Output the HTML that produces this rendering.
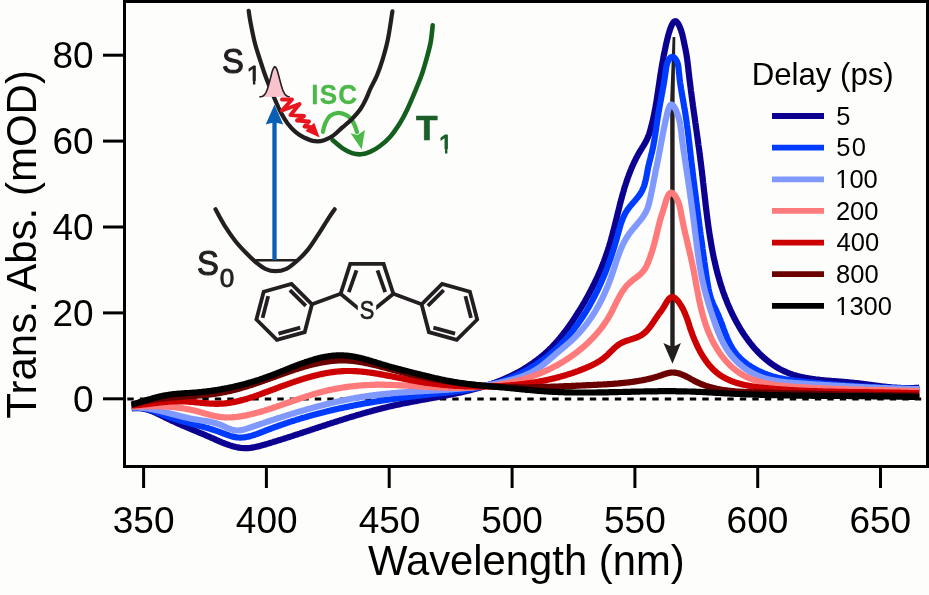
<!DOCTYPE html>
<html><head><meta charset="utf-8"><style>html,body{margin:0;padding:0;background:#fdfdfc;}svg{display:block;}</style></head>
<body>
<svg width="929" height="595" viewBox="0 0 929 595" style="will-change:transform"><rect x="0" y="0" width="929" height="595" fill="#fdfdfc"/>
<line x1="127.3" y1="399" x2="925" y2="399" stroke="#000" stroke-width="3" stroke-dasharray="6.4 6.1"/>
<polygon points="672.6,37 675.3,37 674.6,100 674.7,347 670.3,347 670.2,100" fill="#231f20"/>
<polygon points="663.4,343.1 670.3,346 674.8,346 680.9,343.1 672.5,363.8" fill="#231f20"/>
<path d="M131.6 408.5L132.7 408.3L133.7 408.2L134.8 408.1L135.8 408.1L136.8 408.0L137.8 408.1L138.8 408.1L139.8 408.2L140.8 408.3L141.8 408.4L142.8 408.6L143.8 408.7L144.7 408.9L145.7 409.2L146.6 409.4L147.6 409.7L148.5 410.0L149.5 410.3L150.4 410.6L151.3 411.0L152.2 411.3L153.2 411.7L154.1 412.1L155.0 412.5L155.9 412.9L156.8 413.3L157.7 413.8L158.6 414.2L159.5 414.6L160.4 415.1L161.3 415.5L162.2 416.0L163.1 416.4L164.0 416.9L164.9 417.3L165.8 417.8L166.7 418.2L167.6 418.6L168.5 419.1L169.4 419.5L170.3 419.9L171.2 420.4L172.1 420.8L173.0 421.2L174.0 421.6L174.9 422.0L175.8 422.5L176.7 422.9L177.6 423.3L178.5 423.7L179.4 424.1L180.3 424.5L181.2 424.9L182.1 425.3L183.0 425.7L184.0 426.1L184.9 426.5L185.8 426.9L186.7 427.2L187.6 427.6L188.5 428.0L189.4 428.4L190.4 428.8L191.3 429.2L192.2 429.6L193.1 430.0L194.0 430.3L195.0 430.7L195.9 431.1L196.8 431.5L197.7 431.9L198.6 432.3L199.6 432.7L200.5 433.1L201.4 433.4L202.3 433.8L203.2 434.2L204.2 434.6L205.1 435.0L206.0 435.4L206.9 435.8L207.9 436.2L208.8 436.6L209.7 437.0L210.6 437.4L211.5 437.8L212.5 438.2L213.4 438.6L214.3 439.0L215.2 439.5L216.2 439.9L217.1 440.3L218.0 440.7L218.9 441.1L219.9 441.5L220.8 441.9L221.7 442.3L222.7 442.7L223.6 443.0L224.5 443.4L225.4 443.8L226.4 444.1L227.3 444.5L228.3 444.8L229.2 445.1L230.1 445.4L231.1 445.7L232.0 446.0L233.0 446.3L233.9 446.6L234.9 446.8L235.8 447.0L236.8 447.2L237.7 447.4L238.7 447.6L239.6 447.7L240.6 447.9L241.5 448.0L242.5 448.0L243.5 448.1L244.4 448.1L245.4 448.2L246.4 448.2L247.4 448.1L248.3 448.1L249.3 448.0L250.3 447.9L251.3 447.7L252.3 447.6L253.3 447.4L254.3 447.2L255.2 447.0L256.2 446.8L257.2 446.6L258.2 446.4L259.2 446.1L260.2 445.9L261.2 445.6L262.2 445.3L263.2 445.0L264.2 444.8L265.1 444.5L266.1 444.2L267.1 443.9L268.1 443.6L269.1 443.3L270.0 443.0L271.0 442.7L272.0 442.4L273.0 442.1L273.9 441.8L274.9 441.5L275.9 441.2L276.8 440.9L277.8 440.6L278.7 440.3L279.7 440.0L280.7 439.7L281.6 439.4L282.6 439.1L283.5 438.8L284.5 438.5L285.4 438.2L286.4 437.9L287.3 437.6L288.3 437.3L289.2 437.0L290.2 436.7L291.1 436.4L292.1 436.1L293.0 435.8L294.0 435.4L294.9 435.1L295.9 434.8L296.8 434.5L297.8 434.2L298.7 433.9L299.7 433.6L300.6 433.3L301.5 433.0L302.5 432.6L303.4 432.3L304.4 432.0L305.3 431.7L306.3 431.4L307.2 431.1L308.1 430.8L309.1 430.5L310.0 430.2L311.0 429.8L311.9 429.5L312.9 429.2L313.8 428.9L314.8 428.6L315.7 428.3L316.6 428.0L317.6 427.7L318.5 427.3L319.5 427.0L320.4 426.7L321.4 426.4L322.3 426.1L323.3 425.8L324.2 425.5L325.2 425.2L326.1 424.9L327.0 424.6L328.0 424.2L328.9 423.9L329.9 423.6L330.8 423.3L331.8 423.0L332.7 422.7L333.7 422.4L334.6 422.1L335.6 421.8L336.5 421.5L337.5 421.2L338.4 420.9L339.4 420.6L340.3 420.3L341.3 420.0L342.2 419.7L343.2 419.4L344.1 419.1L345.1 418.8L346.0 418.5L347.0 418.2L347.9 417.9L348.9 417.6L349.9 417.3L350.8 417.0L351.8 416.8L352.7 416.5L353.7 416.2L354.6 415.9L355.6 415.6L356.5 415.3L357.5 415.0L358.4 414.8L359.4 414.5L360.4 414.2L361.3 413.9L362.3 413.6L363.2 413.4L364.2 413.1L365.2 412.8L366.1 412.6L367.1 412.3L368.0 412.0L369.0 411.8L370.0 411.5L370.9 411.2L371.9 411.0L372.8 410.7L373.8 410.4L374.8 410.2L375.7 409.9L376.7 409.7L377.7 409.4L378.6 409.2L379.6 408.9L380.6 408.7L381.5 408.4L382.5 408.2L383.5 407.9L384.4 407.7L385.4 407.5L386.4 407.2L387.3 407.0L388.3 406.8L389.3 406.5L390.3 406.3L391.2 406.1L392.2 405.9L393.2 405.6L394.1 405.4L395.1 405.2L396.1 405.0L397.1 404.8L398.1 404.6L399.0 404.4L400.0 404.2L401.0 403.9L402.0 403.7L402.9 403.5L403.9 403.3L404.9 403.1L405.9 402.9L406.9 402.8L407.8 402.6L408.8 402.4L409.8 402.2L410.8 402.0L411.8 401.8L412.8 401.6L413.7 401.4L414.7 401.2L415.7 401.1L416.7 400.9L417.7 400.7L418.6 400.5L419.6 400.3L420.6 400.1L421.6 400.0L422.6 399.8L423.6 399.6L424.6 399.4L425.5 399.2L426.5 399.1L427.5 398.9L428.5 398.7L429.5 398.5L430.5 398.3L431.4 398.2L432.4 398.0L433.4 397.8L434.4 397.6L435.4 397.4L436.4 397.3L437.3 397.1L438.3 396.9L439.3 396.7L440.3 396.5L441.3 396.4L442.2 396.2L443.2 396.0L444.2 395.8L445.2 395.6L446.2 395.4L447.1 395.2L448.1 395.0L449.1 394.8L450.1 394.6L451.1 394.4L452.0 394.2L453.0 394.0L454.0 393.8L455.0 393.6L455.9 393.4L456.9 393.2L457.9 393.0L458.9 392.8L459.8 392.6L460.8 392.4L461.8 392.2L462.7 391.9L463.7 391.7L464.7 391.5L465.6 391.3L466.6 391.0L467.6 390.8L468.5 390.6L469.5 390.3L470.5 390.1L471.4 389.8L472.4 389.6L473.3 389.3L474.3 389.1L475.3 388.8L476.2 388.6L477.2 388.3L478.1 388.0L479.1 387.8L480.0 387.5L481.0 387.2L481.9 386.9L482.9 386.6L483.8 386.4L484.8 386.1L485.7 385.8L486.7 385.5L487.6 385.2L488.6 384.8L489.5 384.5L490.4 384.2L491.4 383.9L492.3 383.6L493.2 383.2L494.2 382.9L495.1 382.6L496.0 382.2L497.0 381.9L497.9 381.5L498.8 381.2L499.7 380.8L500.7 380.4L501.6 380.0L502.5 379.7L503.4 379.3L504.3 378.9L505.3 378.5L506.2 378.1L507.1 377.7L508.0 377.3L508.9 376.9L509.8 376.4L510.7 376.0L511.6 375.6L512.5 375.1L513.4 374.7L514.3 374.2L515.2 373.8L516.1 373.3L517.0 372.8L517.9 372.4L518.8 371.9L519.7 371.4L520.5 370.9L521.4 370.4L522.3 369.9L523.2 369.4L524.0 368.8L524.9 368.3L525.8 367.8L526.6 367.2L527.5 366.7L528.3 366.1L529.2 365.6L530.0 365.0L530.9 364.5L531.7 363.9L532.6 363.3L533.4 362.7L534.2 362.1L535.0 361.5L535.9 360.9L536.7 360.3L537.5 359.7L538.3 359.1L539.1 358.5L539.9 357.9L540.7 357.2L541.4 356.6L542.2 356.0L543.0 355.3L543.7 354.7L544.5 354.0L545.3 353.3L546.0 352.7L546.7 352.0L547.5 351.3L548.2 350.6L548.9 349.9L549.6 349.2L550.3 348.5L551.1 347.8L551.8 347.1L552.4 346.4L553.1 345.7L553.8 345.0L554.5 344.3L555.2 343.5L555.8 342.8L556.5 342.1L557.1 341.3L557.8 340.6L558.4 339.8L559.1 339.1L559.7 338.3L560.3 337.5L561.0 336.8L561.6 336.0L562.2 335.2L562.8 334.5L563.4 333.7L564.0 332.9L564.7 332.1L565.3 331.3L565.8 330.5L566.4 329.8L567.0 329.0L567.6 328.2L568.2 327.4L568.8 326.5L569.3 325.7L569.9 324.9L570.5 324.1L571.0 323.3L571.6 322.5L572.1 321.7L572.7 320.8L573.3 320.0L573.8 319.2L574.3 318.4L574.9 317.5L575.4 316.7L576.0 315.9L576.5 315.0L577.0 314.2L577.6 313.3L578.1 312.5L578.6 311.6L579.2 310.8L579.7 310.0L580.2 309.1L580.7 308.3L581.2 307.4L581.7 306.6L582.3 305.7L582.8 304.8L583.3 304.0L583.8 303.1L584.3 302.3L584.8 301.4L585.3 300.5L585.8 299.7L586.3 298.8L586.7 297.9L587.2 297.1L587.7 296.2L588.2 295.3L588.7 294.4L589.1 293.5L589.6 292.7L590.1 291.8L590.5 290.9L591.0 290.0L591.5 289.1L591.9 288.2L592.4 287.4L592.8 286.5L593.3 285.6L593.7 284.7L594.2 283.8L594.6 282.9L595.0 282.0L595.5 281.1L595.9 280.2L596.3 279.3L596.7 278.4L597.2 277.5L597.6 276.6L598.0 275.7L598.4 274.7L598.8 273.8L599.2 272.9L599.6 272.0L600.0 271.1L600.4 270.2L600.8 269.2L601.2 268.3L601.6 267.4L601.9 266.5L602.3 265.5L602.7 264.6L603.0 263.7L603.4 262.7L603.8 261.8L604.1 260.9L604.5 259.9L604.8 259.0L605.2 258.1L605.5 257.1L605.8 256.2L606.2 255.2L606.5 254.3L606.8 253.3L607.1 252.4L607.4 251.5L607.8 250.5L608.1 249.5L608.4 248.6L608.7 247.6L609.0 246.7L609.3 245.7L609.5 244.8L609.8 243.8L610.1 242.8L610.4 241.9L610.7 240.9L610.9 239.9L611.2 239.0L611.5 238.0L611.7 237.0L612.0 236.1L612.3 235.1L612.5 234.1L612.8 233.2L613.0 232.2L613.3 231.2L613.5 230.3L613.8 229.3L614.0 228.3L614.3 227.3L614.5 226.4L614.8 225.4L615.0 224.4L615.3 223.4L615.5 222.5L615.7 221.5L616.0 220.5L616.2 219.5L616.5 218.6L616.7 217.6L616.9 216.6L617.2 215.6L617.4 214.7L617.7 213.7L617.9 212.7L618.1 211.7L618.4 210.8L618.6 209.8L618.9 208.8L619.1 207.8L619.4 206.9L619.6 205.9L619.8 204.9L620.1 203.9L620.3 203.0L620.6 202.0L620.8 201.0L621.1 200.1L621.4 199.1L621.6 198.1L621.9 197.2L622.1 196.2L622.4 195.2L622.7 194.3L622.9 193.3L623.2 192.4L623.5 191.4L623.8 190.5L624.0 189.5L624.3 188.5L624.6 187.6L624.9 186.6L625.2 185.7L625.5 184.7L625.8 183.8L626.1 182.9L626.4 181.9L626.7 181.0L627.1 180.0L627.4 179.1L627.7 178.2L628.0 177.2L628.4 176.3L628.7 175.4L629.1 174.4L629.4 173.5L629.8 172.6L630.1 171.7L630.5 170.7L630.9 169.8L631.2 168.9L631.6 168.0L632.0 167.1L632.4 166.2L632.8 165.3L633.2 164.4L633.6 163.5L634.0 162.6L634.5 161.7L634.9 160.8L635.3 159.9L635.8 159.0L636.2 158.1L636.7 157.2L637.2 156.4L637.6 155.5L638.1 154.6L638.6 153.7L639.1 152.9L639.6 152.0L640.1 151.2L640.6 150.3L641.1 149.5L641.7 148.6L642.2 147.7L642.7 146.9L643.3 146.0L643.8 145.2L644.3 144.3L644.8 143.5L645.3 142.6L645.8 141.7L646.2 140.8L646.7 139.9L647.1 139.0L647.5 138.1L647.9 137.2L648.3 136.3L648.6 135.3L649.0 134.4L649.3 133.4L649.6 132.5L649.9 131.5L650.2 130.6L650.4 129.6L650.7 128.6L651.0 127.7L651.2 126.7L651.5 125.7L651.7 124.8L652.0 123.8L652.2 122.8L652.4 121.9L652.7 120.9L652.9 119.9L653.1 118.9L653.3 118.0L653.5 117.0L653.7 116.0L654.0 115.0L654.2 114.0L654.3 113.1L654.5 112.1L654.7 111.1L654.9 110.1L655.1 109.1L655.3 108.2L655.5 107.2L655.6 106.2L655.8 105.2L656.0 104.2L656.1 103.2L656.3 102.3L656.5 101.3L656.6 100.3L656.8 99.3L656.9 98.3L657.1 97.3L657.2 96.3L657.4 95.3L657.5 94.4L657.7 93.4L657.8 92.4L658.0 91.4L658.1 90.4L658.3 89.4L658.4 88.4L658.6 87.4L658.7 86.4L658.9 85.5L659.0 84.5L659.2 83.5L659.3 82.5L659.4 81.5L659.6 80.5L659.7 79.5L659.9 78.5L660.0 77.5L660.2 76.6L660.3 75.6L660.5 74.6L660.6 73.6L660.8 72.6L661.0 71.6L661.1 70.6L661.3 69.6L661.4 68.7L661.6 67.7L661.8 66.7L661.9 65.7L662.1 64.7L662.3 63.7L662.4 62.8L662.6 61.8L662.8 60.8L663.0 59.8L663.2 58.8L663.3 57.9L663.5 56.9L663.7 55.9L663.9 54.9L664.1 53.9L664.3 53.0L664.5 52.0L664.7 51.0L664.9 50.1L665.1 49.1L665.3 48.1L665.5 47.1L665.7 46.2L665.9 45.2L666.1 44.2L666.3 43.3L666.5 42.3L666.8 41.4L667.0 40.4L667.2 39.4L667.5 38.5L667.7 37.5L668.0 36.5L668.2 35.4L668.5 34.4L668.8 33.3L669.2 32.2L669.5 31.1L669.9 29.9L670.3 28.7L670.7 27.6L671.2 26.5L671.6 25.4L672.1 24.4L672.6 23.6L673.1 22.8L673.6 22.1L674.1 21.7L674.6 21.3L675.2 21.2L675.7 21.3L676.3 21.5L676.8 22.0L677.4 22.6L677.9 23.3L678.4 24.2L678.9 25.1L679.4 26.1L679.9 27.2L680.3 28.4L680.8 29.5L681.2 30.7L681.5 31.9L681.9 33.0L682.2 34.1L682.5 35.2L682.7 36.2L683.0 37.3L683.2 38.3L683.4 39.3L683.6 40.3L683.8 41.2L684.0 42.2L684.2 43.2L684.4 44.1L684.6 45.1L684.8 46.0L685.0 47.0L685.2 47.9L685.4 48.9L685.6 49.9L685.8 50.8L686.0 51.8L686.1 52.7L686.3 53.7L686.5 54.7L686.6 55.6L686.8 56.6L686.9 57.6L687.1 58.6L687.2 59.6L687.3 60.6L687.5 61.6L687.6 62.6L687.7 63.6L687.8 64.6L687.9 65.5L688.1 66.6L688.2 67.6L688.3 68.6L688.4 69.6L688.5 70.6L688.6 71.6L688.7 72.6L688.9 73.6L689.0 74.6L689.1 75.6L689.2 76.6L689.3 77.6L689.4 78.6L689.6 79.6L689.7 80.6L689.8 81.6L689.9 82.6L690.1 83.5L690.2 84.5L690.3 85.5L690.4 86.5L690.6 87.5L690.7 88.5L690.8 89.5L690.9 90.5L691.1 91.5L691.2 92.5L691.3 93.5L691.5 94.5L691.6 95.5L691.7 96.5L691.8 97.5L692.0 98.4L692.1 99.4L692.2 100.4L692.4 101.4L692.5 102.4L692.7 103.4L692.8 104.4L692.9 105.4L693.1 106.4L693.2 107.3L693.3 108.3L693.5 109.3L693.6 110.3L693.7 111.3L693.9 112.3L694.0 113.3L694.2 114.2L694.3 115.2L694.4 116.2L694.6 117.2L694.7 118.2L694.9 119.2L695.0 120.2L695.1 121.1L695.3 122.1L695.4 123.1L695.6 124.1L695.7 125.1L695.8 126.1L696.0 127.1L696.1 128.0L696.3 129.0L696.4 130.0L696.5 131.0L696.7 132.0L696.8 133.0L696.9 134.0L697.1 134.9L697.2 135.9L697.4 136.9L697.5 137.9L697.6 138.9L697.8 139.9L697.9 140.9L698.0 141.8L698.2 142.8L698.3 143.8L698.4 144.8L698.6 145.8L698.7 146.8L698.9 147.8L699.0 148.7L699.1 149.7L699.3 150.7L699.4 151.7L699.5 152.7L699.6 153.7L699.8 154.7L699.9 155.7L700.0 156.6L700.2 157.6L700.3 158.6L700.4 159.6L700.5 160.6L700.7 161.6L700.8 162.6L700.9 163.6L701.0 164.6L701.2 165.6L701.3 166.6L701.4 167.5L701.5 168.5L701.6 169.5L701.8 170.5L701.9 171.5L702.0 172.5L702.1 173.5L702.2 174.5L702.3 175.5L702.5 176.5L702.6 177.5L702.7 178.5L702.8 179.5L702.9 180.5L703.0 181.5L703.1 182.5L703.3 183.5L703.4 184.5L703.5 185.5L703.6 186.5L703.7 187.5L703.8 188.5L703.9 189.5L704.0 190.5L704.1 191.4L704.3 192.4L704.4 193.4L704.5 194.4L704.6 195.4L704.7 196.4L704.8 197.4L704.9 198.4L705.1 199.4L705.2 200.4L705.3 201.4L705.4 202.4L705.5 203.4L705.6 204.4L705.7 205.4L705.9 206.4L706.0 207.4L706.1 208.4L706.2 209.4L706.3 210.4L706.5 211.4L706.6 212.4L706.7 213.4L706.8 214.4L707.0 215.4L707.1 216.4L707.2 217.4L707.3 218.4L707.5 219.4L707.6 220.4L707.7 221.4L707.9 222.4L708.0 223.4L708.1 224.3L708.3 225.3L708.4 226.3L708.5 227.3L708.7 228.3L708.8 229.3L709.0 230.3L709.1 231.3L709.3 232.3L709.4 233.3L709.6 234.3L709.7 235.2L709.9 236.2L710.0 237.2L710.2 238.2L710.4 239.2L710.5 240.2L710.7 241.2L710.9 242.2L711.0 243.1L711.2 244.1L711.4 245.1L711.5 246.1L711.7 247.1L711.9 248.1L712.1 249.0L712.3 250.0L712.5 251.0L712.6 252.0L712.8 253.0L713.0 253.9L713.2 254.9L713.4 255.9L713.6 256.9L713.8 257.8L714.0 258.8L714.3 259.8L714.5 260.8L714.7 261.7L714.9 262.7L715.1 263.7L715.4 264.6L715.6 265.6L715.8 266.6L716.0 267.5L716.3 268.5L716.5 269.5L716.8 270.4L717.0 271.4L717.3 272.3L717.5 273.3L717.8 274.3L718.0 275.2L718.3 276.2L718.6 277.1L718.8 278.1L719.1 279.0L719.4 280.0L719.7 281.0L720.0 281.9L720.2 282.9L720.5 283.8L720.8 284.8L721.1 285.7L721.4 286.6L721.7 287.6L722.1 288.5L722.4 289.5L722.7 290.4L723.0 291.4L723.3 292.3L723.7 293.2L724.0 294.2L724.4 295.1L724.7 296.0L725.0 297.0L725.4 297.9L725.8 298.8L726.1 299.7L726.5 300.7L726.9 301.6L727.2 302.5L727.6 303.4L728.0 304.4L728.4 305.3L728.8 306.2L729.2 307.1L729.6 308.0L730.0 308.9L730.4 309.9L730.8 310.8L731.2 311.7L731.7 312.6L732.1 313.5L732.5 314.4L733.0 315.3L733.4 316.2L733.9 317.1L734.3 318.0L734.8 318.9L735.3 319.8L735.8 320.7L736.2 321.6L736.7 322.5L737.2 323.3L737.7 324.2L738.2 325.1L738.7 326.0L739.2 326.9L739.7 327.7L740.2 328.6L740.8 329.5L741.3 330.3L741.8 331.2L742.4 332.0L742.9 332.9L743.5 333.7L744.0 334.6L744.6 335.4L745.2 336.2L745.8 337.1L746.3 337.9L746.9 338.7L747.5 339.5L748.1 340.3L748.7 341.1L749.3 341.9L749.9 342.7L750.6 343.5L751.2 344.3L751.8 345.1L752.4 345.8L753.1 346.6L753.7 347.4L754.4 348.1L755.0 348.9L755.7 349.6L756.4 350.3L757.1 351.1L757.7 351.8L758.4 352.5L759.1 353.2L759.8 353.9L760.5 354.6L761.2 355.3L761.9 356.0L762.7 356.6L763.4 357.3L764.1 357.9L764.9 358.6L765.6 359.2L766.4 359.9L767.1 360.5L767.9 361.1L768.7 361.7L769.4 362.3L770.2 362.9L771.0 363.4L771.8 364.0L772.6 364.6L773.4 365.1L774.2 365.7L775.0 366.2L775.8 366.7L776.7 367.2L777.5 367.7L778.4 368.2L779.2 368.7L780.1 369.2L780.9 369.6L781.8 370.1L782.7 370.5L783.5 370.9L784.4 371.3L785.3 371.7L786.2 372.1L787.1 372.5L788.0 372.9L788.9 373.2L789.9 373.6L790.8 373.9L791.7 374.3L792.7 374.6L793.6 374.9L794.6 375.2L795.5 375.4L796.5 375.7L797.4 376.0L798.4 376.2L799.4 376.5L800.4 376.7L801.3 376.9L802.3 377.2L803.3 377.4L804.3 377.6L805.3 377.8L806.3 378.0L807.3 378.1L808.3 378.3L809.3 378.5L810.4 378.6L811.4 378.8L812.4 379.0L813.4 379.1L814.4 379.2L815.5 379.4L816.5 379.5L817.5 379.6L818.5 379.7L819.6 379.8L820.6 380.0L821.6 380.1L822.7 380.2L823.7 380.3L824.7 380.4L825.8 380.5L826.8 380.5L827.9 380.6L828.9 380.7L829.9 380.8L831.0 380.9L832.0 381.0L833.0 381.0L834.1 381.1L835.1 381.2L836.1 381.3L837.1 381.4L838.2 381.4L839.2 381.5L840.2 381.6L841.2 381.7L842.3 381.8L843.3 381.8L844.3 381.9L845.3 382.0L846.3 382.1L847.3 382.2L848.3 382.3L849.3 382.4L850.3 382.5L851.3 382.6L852.3 382.7L853.3 382.8L854.2 382.9L855.2 383.0L856.2 383.1L857.2 383.2L858.1 383.3L859.1 383.4L860.1 383.6L861.0 383.7L862.0 383.8L862.9 383.9L863.9 384.1L864.8 384.2L865.8 384.3L866.7 384.4L867.7 384.6L868.6 384.7L869.6 384.8L870.5 384.9L871.5 385.1L872.4 385.2L873.4 385.3L874.3 385.4L875.3 385.6L876.2 385.7L877.2 385.8L878.1 385.9L879.1 386.1L880.0 386.2L881.0 386.3L881.9 386.4L882.9 386.5L883.8 386.6L884.8 386.7L885.7 386.8L886.7 386.9L887.7 387.0L888.6 387.1L889.6 387.2L890.6 387.3L891.5 387.4L892.5 387.5L893.5 387.5L894.5 387.6L895.4 387.7L896.4 387.7L897.4 387.8L898.4 387.9L899.4 387.9L900.4 387.9L901.4 388.0L902.4 388.0L903.4 388.0L904.5 388.1L905.5 388.1L906.5 388.1L907.6 388.1L908.6 388.1L909.6 388.1L910.7 388.1L911.7 388.1L912.8 388.0L913.9 388.0L914.9 387.9L916.0 387.9L917.1 387.8L918.2 387.8L919.3 387.7" fill="none" stroke="#0b0090" stroke-width="6.2" stroke-linejoin="round" stroke-linecap="butt"/>
<path d="M131.6 408.0L132.7 407.9L133.7 407.7L134.7 407.7L135.8 407.6L136.8 407.6L137.8 407.6L138.8 407.6L139.8 407.7L140.8 407.8L141.8 407.9L142.7 408.1L143.7 408.2L144.7 408.4L145.7 408.6L146.6 408.8L147.6 409.1L148.5 409.4L149.5 409.6L150.4 409.9L151.4 410.2L152.3 410.6L153.2 410.9L154.2 411.2L155.1 411.6L156.0 411.9L157.0 412.3L157.9 412.7L158.8 413.0L159.7 413.4L160.7 413.8L161.6 414.1L162.5 414.5L163.5 414.9L164.4 415.3L165.3 415.6L166.3 416.0L167.2 416.3L168.1 416.7L169.1 417.0L170.0 417.3L171.0 417.7L171.9 418.0L172.9 418.3L173.8 418.6L174.8 418.9L175.7 419.2L176.7 419.5L177.6 419.8L178.6 420.1L179.6 420.4L180.5 420.7L181.5 420.9L182.4 421.2L183.4 421.5L184.4 421.7L185.3 422.0L186.3 422.3L187.3 422.5L188.2 422.8L189.2 423.0L190.1 423.3L191.1 423.6L192.1 423.8L193.0 424.1L194.0 424.3L195.0 424.6L195.9 424.8L196.9 425.1L197.9 425.4L198.8 425.6L199.8 425.9L200.8 426.1L201.7 426.4L202.7 426.7L203.7 426.9L204.6 427.2L205.6 427.5L206.5 427.7L207.5 428.0L208.5 428.3L209.4 428.6L210.4 428.9L211.3 429.2L212.3 429.5L213.2 429.8L214.2 430.1L215.1 430.4L216.1 430.7L217.1 431.1L218.0 431.4L219.0 431.7L219.9 432.1L220.9 432.4L221.8 432.8L222.8 433.2L223.7 433.5L224.7 433.9L225.6 434.2L226.5 434.6L227.5 434.9L228.4 435.3L229.4 435.6L230.3 435.9L231.3 436.2L232.2 436.4L233.1 436.7L234.1 436.9L235.0 437.1L236.0 437.2L236.9 437.4L237.9 437.5L238.8 437.5L239.7 437.6L240.7 437.6L241.6 437.5L242.6 437.5L243.5 437.4L244.4 437.3L245.4 437.2L246.3 437.0L247.3 436.8L248.2 436.6L249.2 436.4L250.1 436.2L251.0 435.9L252.0 435.6L252.9 435.3L253.9 435.0L254.8 434.7L255.7 434.4L256.7 434.1L257.6 433.7L258.6 433.4L259.5 433.0L260.5 432.6L261.4 432.3L262.4 431.9L263.3 431.5L264.3 431.1L265.2 430.8L266.1 430.4L267.1 430.0L268.0 429.7L269.0 429.3L269.9 429.0L270.9 428.6L271.8 428.2L272.8 427.9L273.7 427.5L274.7 427.2L275.6 426.8L276.6 426.5L277.5 426.2L278.5 425.8L279.4 425.5L280.4 425.2L281.3 424.8L282.3 424.5L283.2 424.2L284.2 423.8L285.2 423.5L286.1 423.2L287.1 422.9L288.0 422.5L289.0 422.2L289.9 421.9L290.9 421.6L291.8 421.3L292.8 421.0L293.8 420.7L294.7 420.4L295.7 420.1L296.6 419.8L297.6 419.5L298.6 419.2L299.5 418.9L300.5 418.6L301.4 418.3L302.4 418.0L303.4 417.7L304.3 417.5L305.3 417.2L306.2 416.9L307.2 416.6L308.2 416.4L309.1 416.1L310.1 415.8L311.1 415.5L312.0 415.3L313.0 415.0L313.9 414.7L314.9 414.5L315.9 414.2L316.8 414.0L317.8 413.7L318.8 413.5L319.7 413.2L320.7 413.0L321.7 412.7L322.6 412.5L323.6 412.2L324.6 412.0L325.5 411.7L326.5 411.5L327.5 411.3L328.5 411.0L329.4 410.8L330.4 410.6L331.4 410.3L332.3 410.1L333.3 409.9L334.3 409.6L335.2 409.4L336.2 409.2L337.2 409.0L338.2 408.8L339.1 408.5L340.1 408.3L341.1 408.1L342.1 407.9L343.0 407.7L344.0 407.5L345.0 407.3L346.0 407.1L346.9 406.9L347.9 406.7L348.9 406.5L349.9 406.3L350.8 406.1L351.8 405.9L352.8 405.7L353.8 405.5L354.7 405.3L355.7 405.1L356.7 404.9L357.7 404.7L358.7 404.5L359.6 404.4L360.6 404.2L361.6 404.0L362.6 403.8L363.5 403.6L364.5 403.5L365.5 403.3L366.5 403.1L367.5 402.9L368.5 402.8L369.4 402.6L370.4 402.4L371.4 402.3L372.4 402.1L373.4 401.9L374.3 401.8L375.3 401.6L376.3 401.5L377.3 401.3L378.3 401.2L379.3 401.0L380.2 400.8L381.2 400.7L382.2 400.5L383.2 400.4L384.2 400.2L385.2 400.1L386.2 399.9L387.1 399.8L388.1 399.7L389.1 399.5L390.1 399.4L391.1 399.2L392.1 399.1L393.1 399.0L394.1 398.8L395.0 398.7L396.0 398.6L397.0 398.4L398.0 398.3L399.0 398.2L400.0 398.0L401.0 397.9L402.0 397.8L403.0 397.6L403.9 397.5L404.9 397.4L405.9 397.3L406.9 397.1L407.9 397.0L408.9 396.9L409.9 396.8L410.9 396.6L411.9 396.5L412.9 396.4L413.9 396.3L414.8 396.2L415.8 396.0L416.8 395.9L417.8 395.8L418.8 395.7L419.8 395.6L420.8 395.5L421.8 395.3L422.8 395.2L423.8 395.1L424.8 395.0L425.8 394.9L426.8 394.8L427.8 394.7L428.8 394.5L429.8 394.4L430.7 394.3L431.7 394.2L432.7 394.1L433.7 394.0L434.7 393.9L435.7 393.7L436.7 393.6L437.7 393.5L438.7 393.4L439.7 393.3L440.7 393.2L441.7 393.1L442.7 393.0L443.7 392.8L444.7 392.7L445.7 392.6L446.7 392.5L447.7 392.4L448.7 392.3L449.7 392.1L450.7 392.0L451.7 391.9L452.7 391.8L453.7 391.6L454.7 391.5L455.6 391.4L456.6 391.3L457.6 391.1L458.6 391.0L459.6 390.9L460.6 390.7L461.6 390.6L462.6 390.4L463.6 390.3L464.6 390.1L465.6 390.0L466.6 389.8L467.5 389.7L468.5 389.5L469.5 389.4L470.5 389.2L471.5 389.0L472.5 388.8L473.5 388.7L474.4 388.5L475.4 388.3L476.4 388.1L477.4 387.9L478.4 387.7L479.3 387.5L480.3 387.3L481.3 387.1L482.3 386.9L483.2 386.6L484.2 386.4L485.2 386.2L486.2 385.9L487.1 385.7L488.1 385.5L489.0 385.2L490.0 384.9L491.0 384.7L491.9 384.4L492.9 384.1L493.9 383.9L494.8 383.6L495.8 383.3L496.7 383.0L497.7 382.7L498.6 382.4L499.6 382.0L500.5 381.7L501.5 381.4L502.4 381.1L503.3 380.7L504.3 380.4L505.2 380.0L506.1 379.7L507.1 379.3L508.0 378.9L508.9 378.6L509.9 378.2L510.8 377.8L511.7 377.4L512.6 377.0L513.5 376.6L514.4 376.2L515.4 375.8L516.3 375.4L517.2 375.0L518.1 374.5L519.0 374.1L519.9 373.7L520.8 373.2L521.6 372.8L522.5 372.3L523.4 371.9L524.3 371.4L525.2 370.9L526.1 370.4L526.9 370.0L527.8 369.5L528.7 369.0L529.5 368.5L530.4 368.0L531.2 367.5L532.1 366.9L532.9 366.4L533.8 365.9L534.6 365.4L535.5 364.8L536.3 364.3L537.1 363.7L538.0 363.2L538.8 362.6L539.6 362.1L540.4 361.5L541.3 360.9L542.1 360.4L542.9 359.8L543.7 359.2L544.5 358.6L545.3 358.0L546.1 357.4L546.8 356.8L547.6 356.2L548.4 355.5L549.2 354.9L549.9 354.3L550.7 353.6L551.5 353.0L552.2 352.4L553.0 351.7L553.7 351.0L554.5 350.4L555.2 349.7L555.9 349.0L556.7 348.4L557.4 347.7L558.1 347.0L558.8 346.3L559.5 345.6L560.2 344.9L560.9 344.2L561.6 343.5L562.3 342.8L563.0 342.1L563.7 341.3L564.4 340.6L565.0 339.9L565.7 339.1L566.4 338.4L567.0 337.6L567.7 336.9L568.3 336.1L569.0 335.4L569.6 334.6L570.3 333.8L570.9 333.1L571.5 332.3L572.1 331.5L572.8 330.7L573.4 329.9L574.0 329.1L574.6 328.3L575.2 327.5L575.8 326.7L576.4 325.9L577.0 325.1L577.6 324.3L578.2 323.5L578.7 322.7L579.3 321.9L579.9 321.0L580.4 320.2L581.0 319.4L581.6 318.5L582.1 317.7L582.7 316.9L583.2 316.0L583.8 315.2L584.3 314.3L584.8 313.5L585.4 312.6L585.9 311.8L586.4 310.9L586.9 310.1L587.4 309.2L588.0 308.3L588.5 307.5L589.0 306.6L589.5 305.7L590.0 304.8L590.4 304.0L590.9 303.1L591.4 302.2L591.9 301.3L592.4 300.4L592.8 299.6L593.3 298.7L593.8 297.8L594.2 296.9L594.7 296.0L595.1 295.1L595.6 294.2L596.0 293.3L596.5 292.4L596.9 291.5L597.4 290.6L597.8 289.7L598.2 288.8L598.6 287.9L599.1 287.0L599.5 286.1L599.9 285.2L600.3 284.3L600.7 283.4L601.1 282.5L601.5 281.6L601.9 280.7L602.3 279.7L602.7 278.8L603.1 277.9L603.5 277.0L603.9 276.1L604.2 275.2L604.6 274.3L605.0 273.3L605.4 272.4L605.7 271.5L606.1 270.6L606.4 269.6L606.8 268.7L607.1 267.8L607.5 266.9L607.8 265.9L608.2 265.0L608.5 264.1L608.9 263.1L609.2 262.2L609.5 261.3L609.9 260.3L610.2 259.4L610.5 258.5L610.8 257.5L611.2 256.6L611.5 255.6L611.8 254.7L612.1 253.7L612.4 252.8L612.7 251.8L613.0 250.9L613.3 249.9L613.6 249.0L613.9 248.0L614.2 247.1L614.5 246.1L614.8 245.1L615.1 244.2L615.4 243.2L615.7 242.2L615.9 241.3L616.2 240.3L616.5 239.3L616.8 238.4L617.0 237.4L617.3 236.4L617.6 235.4L617.8 234.4L618.1 233.5L618.4 232.5L618.6 231.5L618.9 230.5L619.2 229.5L619.5 228.6L619.7 227.6L620.0 226.6L620.3 225.7L620.6 224.7L620.9 223.7L621.2 222.8L621.6 221.8L621.9 220.9L622.3 219.9L622.6 219.0L623.0 218.1L623.4 217.2L623.8 216.3L624.2 215.4L624.7 214.5L625.1 213.6L625.6 212.7L626.1 211.9L626.7 211.0L627.2 210.2L627.8 209.4L628.3 208.6L628.9 207.8L629.6 207.0L630.2 206.2L630.8 205.4L631.5 204.7L632.1 203.9L632.8 203.1L633.5 202.4L634.1 201.6L634.8 200.9L635.4 200.1L636.1 199.3L636.7 198.6L637.4 197.8L638.0 197.0L638.6 196.2L639.2 195.4L639.7 194.6L640.3 193.8L640.8 193.0L641.3 192.1L641.8 191.3L642.2 190.4L642.6 189.5L643.0 188.6L643.4 187.7L643.8 186.8L644.1 185.9L644.4 184.9L644.7 184.0L644.9 183.0L645.2 182.0L645.4 181.1L645.7 180.1L645.9 179.1L646.1 178.1L646.3 177.1L646.5 176.1L646.7 175.1L646.9 174.1L647.1 173.1L647.3 172.1L647.4 171.1L647.6 170.1L647.8 169.2L648.0 168.2L648.2 167.2L648.4 166.2L648.7 165.2L648.9 164.3L649.1 163.3L649.3 162.3L649.6 161.4L649.8 160.4L650.1 159.5L650.3 158.5L650.6 157.6L650.8 156.6L651.0 155.7L651.3 154.7L651.5 153.7L651.8 152.8L652.0 151.8L652.2 150.8L652.4 149.9L652.7 148.9L652.9 147.9L653.1 146.9L653.3 146.0L653.5 145.0L653.6 144.0L653.8 143.0L654.0 142.0L654.2 141.0L654.4 140.0L654.5 139.0L654.7 138.0L654.8 137.0L655.0 136.0L655.2 135.0L655.3 134.0L655.5 133.0L655.6 132.0L655.8 131.0L655.9 130.0L656.1 129.0L656.2 128.0L656.3 127.0L656.5 125.9L656.6 124.9L656.8 124.0L656.9 123.0L657.1 122.0L657.2 121.0L657.4 120.0L657.5 119.0L657.7 118.0L657.8 117.0L658.0 116.1L658.1 115.1L658.3 114.1L658.4 113.1L658.6 112.2L658.8 111.2L658.9 110.3L659.1 109.3L659.3 108.3L659.4 107.4L659.6 106.4L659.8 105.5L660.0 104.5L660.1 103.6L660.3 102.6L660.5 101.7L660.7 100.7L660.9 99.8L661.0 98.8L661.2 97.9L661.4 96.9L661.6 96.0L661.7 95.0L661.9 94.0L662.1 93.1L662.3 92.1L662.5 91.2L662.6 90.2L662.8 89.2L663.0 88.2L663.2 87.2L663.3 86.3L663.5 85.3L663.7 84.3L663.8 83.3L664.0 82.3L664.2 81.3L664.3 80.3L664.5 79.2L664.7 78.2L664.8 77.2L665.0 76.1L665.1 75.1L665.3 74.0L665.4 73.0L665.6 71.9L665.7 70.8L665.9 69.8L666.0 68.7L666.2 67.6L666.4 66.5L666.6 65.5L666.9 64.4L667.2 63.4L667.5 62.4L667.9 61.4L668.4 60.5L668.9 59.6L669.4 58.8L670.0 58.1L670.6 57.5L671.3 57.1L671.9 56.9L672.6 56.9L673.3 57.1L674.0 57.4L674.6 58.0L675.2 58.6L675.8 59.4L676.3 60.3L676.8 61.2L677.2 62.2L677.6 63.2L677.9 64.3L678.1 65.4L678.3 66.5L678.5 67.6L678.6 68.8L678.7 69.9L678.8 71.1L678.9 72.2L679.0 73.3L679.2 74.4L679.3 75.5L679.4 76.5L679.5 77.6L679.6 78.6L679.7 79.6L679.9 80.6L680.0 81.6L680.1 82.6L680.3 83.6L680.4 84.6L680.6 85.5L680.7 86.5L680.9 87.4L681.0 88.4L681.2 89.3L681.3 90.3L681.5 91.2L681.6 92.1L681.8 93.1L682.0 94.0L682.1 94.9L682.3 95.9L682.4 96.8L682.6 97.7L682.8 98.7L683.0 99.6L683.1 100.6L683.3 101.5L683.5 102.5L683.6 103.5L683.8 104.4L684.0 105.4L684.1 106.4L684.3 107.4L684.5 108.4L684.7 109.4L684.8 110.4L685.0 111.4L685.2 112.4L685.3 113.4L685.5 114.4L685.6 115.4L685.8 116.4L685.9 117.3L686.1 118.3L686.2 119.3L686.4 120.3L686.5 121.3L686.7 122.3L686.8 123.3L686.9 124.3L687.1 125.3L687.2 126.3L687.3 127.3L687.5 128.3L687.6 129.3L687.7 130.3L687.8 131.3L688.0 132.3L688.1 133.3L688.2 134.2L688.3 135.2L688.5 136.2L688.6 137.2L688.7 138.2L688.8 139.2L688.9 140.2L689.0 141.2L689.1 142.2L689.3 143.2L689.4 144.1L689.5 145.1L689.6 146.1L689.7 147.1L689.8 148.1L689.9 149.1L690.0 150.1L690.2 151.1L690.3 152.1L690.4 153.1L690.5 154.0L690.6 155.0L690.7 156.0L690.8 157.0L691.0 158.0L691.1 159.0L691.2 160.0L691.3 161.0L691.4 162.0L691.5 163.0L691.7 164.0L691.8 165.0L691.9 165.9L692.0 166.9L692.1 167.9L692.3 168.9L692.4 169.9L692.5 170.9L692.6 171.9L692.7 172.9L692.9 173.9L693.0 174.9L693.1 175.9L693.2 176.9L693.3 177.9L693.5 178.9L693.6 179.8L693.7 180.8L693.8 181.8L694.0 182.8L694.1 183.8L694.2 184.8L694.3 185.8L694.5 186.8L694.6 187.8L694.7 188.8L694.8 189.8L695.0 190.8L695.1 191.8L695.2 192.8L695.3 193.7L695.5 194.7L695.6 195.7L695.7 196.7L695.8 197.7L696.0 198.7L696.1 199.7L696.2 200.7L696.3 201.7L696.5 202.7L696.6 203.7L696.7 204.7L696.9 205.6L697.0 206.6L697.1 207.6L697.2 208.6L697.4 209.6L697.5 210.6L697.6 211.6L697.8 212.6L697.9 213.6L698.0 214.6L698.1 215.5L698.3 216.5L698.4 217.5L698.5 218.5L698.7 219.5L698.8 220.5L698.9 221.5L699.0 222.5L699.2 223.4L699.3 224.4L699.4 225.4L699.6 226.4L699.7 227.4L699.8 228.4L700.0 229.4L700.1 230.4L700.2 231.4L700.4 232.3L700.5 233.3L700.6 234.3L700.8 235.3L700.9 236.3L701.0 237.3L701.2 238.3L701.3 239.3L701.4 240.2L701.6 241.2L701.7 242.2L701.8 243.2L702.0 244.2L702.1 245.2L702.2 246.2L702.4 247.2L702.5 248.1L702.6 249.1L702.8 250.1L702.9 251.1L703.0 252.1L703.2 253.1L703.3 254.1L703.5 255.1L703.6 256.1L703.7 257.1L703.9 258.0L704.0 259.0L704.2 260.0L704.3 261.0L704.4 262.0L704.6 263.0L704.7 264.0L704.9 265.0L705.0 266.0L705.1 267.0L705.3 268.0L705.4 269.0L705.6 270.0L705.7 271.0L705.9 272.0L706.0 273.0L706.1 274.0L706.3 274.9L706.4 275.9L706.6 276.9L706.7 277.9L706.9 278.9L707.0 279.9L707.2 280.9L707.3 281.9L707.5 282.9L707.7 283.9L707.8 284.9L708.0 285.9L708.2 286.9L708.4 287.9L708.5 288.9L708.7 289.8L709.0 290.8L709.2 291.8L709.4 292.8L709.6 293.7L709.9 294.7L710.1 295.6L710.4 296.6L710.7 297.5L711.0 298.4L711.3 299.4L711.7 300.3L712.0 301.2L712.4 302.1L712.7 303.0L713.1 303.9L713.5 304.8L713.9 305.7L714.3 306.6L714.7 307.5L715.1 308.3L715.6 309.2L716.0 310.1L716.4 311.0L716.8 311.9L717.2 312.8L717.6 313.7L718.1 314.6L718.5 315.5L718.8 316.4L719.2 317.4L719.6 318.3L720.0 319.3L720.4 320.2L720.7 321.1L721.1 322.1L721.5 323.1L721.8 324.0L722.2 325.0L722.5 325.9L722.9 326.9L723.2 327.9L723.6 328.8L723.9 329.8L724.3 330.8L724.7 331.7L725.0 332.7L725.4 333.7L725.8 334.6L726.2 335.6L726.5 336.5L726.9 337.5L727.3 338.4L727.7 339.3L728.1 340.3L728.6 341.2L729.0 342.1L729.4 343.0L729.9 343.9L730.3 344.8L730.8 345.7L731.3 346.5L731.8 347.4L732.3 348.2L732.8 349.1L733.4 349.9L733.9 350.7L734.5 351.5L735.1 352.3L735.7 353.1L736.3 353.9L736.9 354.6L737.5 355.4L738.2 356.1L738.8 356.8L739.5 357.5L740.2 358.2L740.9 358.9L741.6 359.6L742.4 360.2L743.1 360.9L743.8 361.5L744.6 362.1L745.4 362.7L746.2 363.3L746.9 363.9L747.7 364.5L748.6 365.1L749.4 365.6L750.2 366.2L751.0 366.7L751.9 367.3L752.7 367.8L753.6 368.3L754.5 368.8L755.4 369.3L756.2 369.7L757.1 370.2L758.0 370.6L758.9 371.1L759.8 371.5L760.8 371.9L761.7 372.3L762.6 372.7L763.6 373.1L764.5 373.5L765.4 373.9L766.4 374.2L767.3 374.6L768.3 374.9L769.3 375.2L770.2 375.6L771.2 375.9L772.1 376.2L773.1 376.5L774.1 376.7L775.1 377.0L776.0 377.3L777.0 377.5L778.0 377.8L779.0 378.0L780.0 378.2L781.0 378.4L781.9 378.6L782.9 378.8L783.9 379.0L784.9 379.2L785.9 379.4L786.9 379.5L787.8 379.7L788.8 379.8L789.8 380.0L790.8 380.1L791.8 380.3L792.8 380.4L793.7 380.5L794.7 380.7L795.7 380.8L796.7 380.9L797.7 381.0L798.7 381.1L799.7 381.2L800.7 381.3L801.6 381.5L802.6 381.6L803.6 381.7L804.6 381.8L805.6 381.9L806.6 382.0L807.6 382.1L808.6 382.2L809.6 382.3L810.6 382.4L811.6 382.5L812.5 382.6L813.5 382.7L814.5 382.8L815.5 382.9L816.5 383.0L817.5 383.1L818.5 383.2L819.5 383.3L820.5 383.4L821.5 383.5L822.5 383.5L823.5 383.6L824.5 383.7L825.5 383.8L826.5 383.9L827.5 384.0L828.5 384.1L829.4 384.1L830.4 384.2L831.4 384.3L832.4 384.4L833.4 384.5L834.4 384.6L835.4 384.6L836.4 384.7L837.4 384.8L838.4 384.9L839.4 384.9L840.4 385.0L841.4 385.1L842.4 385.2L843.4 385.2L844.4 385.3L845.4 385.4L846.4 385.5L847.4 385.5L848.4 385.6L849.4 385.7L850.4 385.7L851.4 385.8L852.4 385.9L853.4 385.9L854.4 386.0L855.4 386.1L856.4 386.1L857.4 386.2L858.4 386.2L859.4 386.3L860.4 386.4L861.4 386.4L862.4 386.5L863.4 386.5L864.4 386.6L865.4 386.7L866.4 386.7L867.4 386.8L868.4 386.8L869.4 386.9L870.4 386.9L871.4 387.0L872.4 387.0L873.4 387.1L874.4 387.2L875.4 387.2L876.4 387.3L877.4 387.3L878.4 387.4L879.4 387.4L880.4 387.5L881.4 387.5L882.4 387.5L883.4 387.6L884.4 387.6L885.4 387.7L886.4 387.7L887.4 387.8L888.4 387.8L889.4 387.9L890.4 387.9L891.4 388.0L892.4 388.0L893.4 388.0L894.4 388.1L895.4 388.1L896.4 388.2L897.4 388.2L898.4 388.2L899.4 388.3L900.4 388.3L901.4 388.4L902.4 388.4L903.4 388.4L904.4 388.5L905.4 388.5L906.4 388.6L907.3 388.6L908.3 388.6L909.3 388.7L910.3 388.7L911.3 388.7L912.3 388.8L913.3 388.8L914.3 388.8L915.3 388.9L916.3 388.9L917.3 388.9L918.3 389.0L919.3 389.0" fill="none" stroke="#003cff" stroke-width="6.2" stroke-linejoin="round" stroke-linecap="butt"/>
<path d="M131.6 407.4L132.6 407.4L133.6 407.4L134.6 407.4L135.6 407.4L136.6 407.4L137.6 407.5L138.6 407.5L139.6 407.6L140.6 407.7L141.6 407.8L142.6 407.8L143.6 408.0L144.6 408.1L145.6 408.2L146.5 408.3L147.5 408.5L148.5 408.6L149.5 408.8L150.5 408.9L151.5 409.1L152.4 409.3L153.4 409.5L154.4 409.7L155.4 409.9L156.3 410.1L157.3 410.3L158.3 410.5L159.3 410.7L160.2 411.0L161.2 411.2L162.2 411.4L163.1 411.7L164.1 411.9L165.1 412.1L166.1 412.4L167.0 412.6L168.0 412.9L169.0 413.1L169.9 413.4L170.9 413.7L171.9 413.9L172.8 414.2L173.8 414.4L174.8 414.7L175.7 414.9L176.7 415.2L177.7 415.4L178.6 415.7L179.6 415.9L180.6 416.2L181.5 416.4L182.5 416.7L183.5 416.9L184.4 417.1L185.4 417.4L186.4 417.6L187.3 417.8L188.3 418.0L189.3 418.3L190.2 418.5L191.2 418.7L192.2 418.9L193.2 419.0L194.1 419.2L195.1 419.4L196.1 419.6L197.1 419.7L198.0 419.9L199.0 420.0L200.0 420.2L201.0 420.3L202.0 420.5L202.9 420.6L203.9 420.8L204.9 420.9L205.9 421.1L206.8 421.2L207.8 421.4L208.8 421.6L209.8 421.8L210.7 422.0L211.7 422.2L212.7 422.4L213.7 422.7L214.6 422.9L215.6 423.2L216.6 423.5L217.5 423.8L218.5 424.1L219.5 424.5L220.4 424.8L221.4 425.2L222.3 425.6L223.3 426.1L224.3 426.5L225.2 426.9L226.2 427.4L227.1 427.8L228.1 428.2L229.0 428.6L229.9 428.9L230.9 429.3L231.8 429.6L232.8 429.9L233.7 430.1L234.7 430.3L235.6 430.4L236.6 430.5L237.5 430.5L238.5 430.5L239.4 430.4L240.4 430.3L241.3 430.1L242.3 429.9L243.2 429.7L244.2 429.5L245.1 429.2L246.1 428.9L247.0 428.6L248.0 428.3L248.9 428.0L249.9 427.6L250.9 427.3L251.8 427.0L252.8 426.7L253.7 426.3L254.7 426.0L255.6 425.7L256.6 425.3L257.5 425.0L258.5 424.7L259.4 424.4L260.4 424.0L261.3 423.7L262.3 423.4L263.2 423.1L264.2 422.8L265.2 422.4L266.1 422.1L267.1 421.8L268.0 421.5L269.0 421.2L269.9 420.8L270.9 420.5L271.8 420.2L272.8 419.9L273.8 419.6L274.7 419.3L275.7 419.0L276.6 418.6L277.6 418.3L278.5 418.0L279.5 417.7L280.5 417.4L281.4 417.1L282.4 416.8L283.3 416.5L284.3 416.2L285.2 415.9L286.2 415.6L287.2 415.3L288.1 415.0L289.1 414.7L290.0 414.4L291.0 414.1L292.0 413.8L292.9 413.5L293.9 413.2L294.8 412.9L295.8 412.6L296.8 412.3L297.7 412.1L298.7 411.8L299.6 411.5L300.6 411.2L301.6 410.9L302.5 410.6L303.5 410.4L304.5 410.1L305.4 409.8L306.4 409.5L307.3 409.3L308.3 409.0L309.3 408.7L310.2 408.5L311.2 408.2L312.2 407.9L313.1 407.7L314.1 407.4L315.1 407.1L316.0 406.9L317.0 406.6L318.0 406.4L318.9 406.1L319.9 405.9L320.9 405.6L321.8 405.4L322.8 405.1L323.8 404.9L324.7 404.6L325.7 404.4L326.7 404.1L327.6 403.9L328.6 403.7L329.6 403.4L330.6 403.2L331.5 403.0L332.5 402.8L333.5 402.5L334.4 402.3L335.4 402.1L336.4 401.9L337.4 401.6L338.3 401.4L339.3 401.2L340.3 401.0L341.3 400.8L342.2 400.6L343.2 400.4L344.2 400.2L345.2 400.0L346.1 399.8L347.1 399.6L348.1 399.4L349.1 399.2L350.1 399.0L351.0 398.8L352.0 398.6L353.0 398.5L354.0 398.3L355.0 398.1L355.9 397.9L356.9 397.8L357.9 397.6L358.9 397.4L359.9 397.3L360.9 397.1L361.8 396.9L362.8 396.8L363.8 396.6L364.8 396.5L365.8 396.3L366.8 396.2L367.8 396.0L368.7 395.9L369.7 395.7L370.7 395.6L371.7 395.5L372.7 395.3L373.7 395.2L374.7 395.1L375.7 395.0L376.7 394.8L377.6 394.7L378.6 394.6L379.6 394.5L380.6 394.4L381.6 394.3L382.6 394.2L383.6 394.1L384.6 394.0L385.6 393.9L386.6 393.8L387.6 393.7L388.6 393.6L389.6 393.5L390.6 393.4L391.6 393.3L392.6 393.2L393.6 393.1L394.6 393.0L395.6 393.0L396.6 392.9L397.5 392.8L398.5 392.7L399.5 392.6L400.5 392.6L401.5 392.5L402.5 392.4L403.5 392.4L404.5 392.3L405.5 392.2L406.5 392.1L407.5 392.1L408.5 392.0L409.5 391.9L410.5 391.9L411.5 391.8L412.5 391.8L413.5 391.7L414.5 391.6L415.5 391.6L416.5 391.5L417.5 391.4L418.5 391.4L419.5 391.3L420.5 391.3L421.5 391.2L422.5 391.2L423.5 391.1L424.5 391.0L425.5 391.0L426.5 390.9L427.5 390.9L428.5 390.8L429.5 390.7L430.5 390.7L431.5 390.6L432.5 390.6L433.5 390.5L434.5 390.5L435.5 390.4L436.5 390.3L437.5 390.3L438.5 390.2L439.5 390.1L440.5 390.1L441.5 390.0L442.5 390.0L443.5 389.9L444.5 389.8L445.5 389.8L446.5 389.7L447.5 389.6L448.5 389.6L449.5 389.5L450.4 389.4L451.4 389.3L452.4 389.3L453.4 389.2L454.4 389.1L455.4 389.0L456.4 388.9L457.4 388.9L458.4 388.8L459.4 388.7L460.4 388.6L461.4 388.5L462.3 388.4L463.3 388.3L464.3 388.2L465.3 388.1L466.3 388.0L467.3 387.9L468.3 387.8L469.3 387.7L470.3 387.6L471.2 387.5L472.2 387.4L473.2 387.2L474.2 387.1L475.2 387.0L476.2 386.9L477.2 386.7L478.1 386.6L479.1 386.5L480.1 386.3L481.1 386.2L482.1 386.0L483.1 385.9L484.0 385.7L485.0 385.6L486.0 385.4L487.0 385.3L488.0 385.1L488.9 384.9L489.9 384.7L490.9 384.6L491.9 384.4L492.9 384.2L493.8 384.0L494.8 383.8L495.8 383.6L496.8 383.4L497.7 383.2L498.7 383.0L499.7 382.8L500.7 382.5L501.6 382.3L502.6 382.1L503.6 381.8L504.6 381.6L505.5 381.4L506.5 381.1L507.5 380.9L508.4 380.6L509.4 380.3L510.4 380.1L511.4 379.8L512.3 379.5L513.3 379.2L514.3 378.9L515.2 378.6L516.2 378.3L517.2 378.0L518.1 377.7L519.1 377.4L520.1 377.1L521.0 376.7L522.0 376.4L522.9 376.0L523.9 375.7L524.8 375.3L525.7 374.9L526.7 374.5L527.6 374.1L528.5 373.7L529.4 373.3L530.3 372.9L531.2 372.4L532.1 372.0L533.0 371.5L533.9 371.0L534.7 370.5L535.6 370.0L536.4 369.5L537.2 369.0L538.1 368.5L538.9 367.9L539.7 367.3L540.5 366.8L541.3 366.2L542.0 365.6L542.8 365.0L543.6 364.4L544.4 363.8L545.1 363.1L545.9 362.5L546.6 361.9L547.4 361.2L548.2 360.6L548.9 359.9L549.7 359.3L550.4 358.6L551.2 358.0L551.9 357.3L552.7 356.7L553.4 356.0L554.2 355.4L554.9 354.7L555.7 354.1L556.5 353.4L557.2 352.8L558.0 352.1L558.8 351.5L559.6 350.8L560.3 350.2L561.1 349.5L561.9 348.9L562.7 348.2L563.4 347.6L564.2 346.9L565.0 346.3L565.8 345.6L566.5 345.0L567.3 344.3L568.1 343.7L568.8 343.0L569.6 342.3L570.3 341.7L571.1 341.0L571.8 340.3L572.6 339.6L573.3 338.9L574.0 338.2L574.7 337.5L575.4 336.8L576.1 336.1L576.8 335.4L577.5 334.7L578.2 333.9L578.9 333.2L579.5 332.5L580.2 331.7L580.9 331.0L581.5 330.2L582.2 329.5L582.8 328.7L583.4 328.0L584.1 327.2L584.7 326.4L585.3 325.6L585.9 324.9L586.5 324.1L587.1 323.3L587.7 322.5L588.3 321.7L588.9 320.9L589.4 320.1L590.0 319.3L590.6 318.4L591.1 317.6L591.7 316.8L592.2 316.0L592.8 315.1L593.3 314.3L593.8 313.5L594.4 312.6L594.9 311.8L595.4 310.9L595.9 310.1L596.4 309.2L596.9 308.4L597.4 307.5L597.9 306.6L598.4 305.8L598.9 304.9L599.3 304.0L599.8 303.1L600.3 302.3L600.7 301.4L601.2 300.5L601.6 299.6L602.1 298.7L602.5 297.8L602.9 296.9L603.4 296.0L603.8 295.1L604.2 294.2L604.6 293.3L605.0 292.4L605.4 291.5L605.8 290.5L606.2 289.6L606.6 288.7L607.0 287.8L607.4 286.8L607.8 285.9L608.2 285.0L608.5 284.0L608.9 283.1L609.3 282.2L609.6 281.2L610.0 280.3L610.3 279.3L610.7 278.4L611.0 277.5L611.3 276.5L611.7 275.5L612.0 274.6L612.3 273.6L612.7 272.7L613.0 271.7L613.3 270.8L613.6 269.8L613.9 268.9L614.2 267.9L614.5 266.9L614.9 266.0L615.2 265.0L615.5 264.1L615.8 263.1L616.1 262.1L616.4 261.2L616.8 260.2L617.1 259.3L617.4 258.3L617.7 257.4L618.1 256.4L618.4 255.5L618.7 254.6L619.1 253.6L619.4 252.7L619.8 251.8L620.2 250.8L620.5 249.9L620.9 249.0L621.3 248.1L621.7 247.2L622.1 246.3L622.5 245.4L622.9 244.5L623.4 243.6L623.8 242.7L624.3 241.8L624.7 241.0L625.2 240.1L625.7 239.2L626.2 238.4L626.7 237.5L627.2 236.7L627.8 235.9L628.3 235.0L628.9 234.2L629.5 233.4L630.1 232.6L630.7 231.8L631.3 231.0L631.9 230.3L632.6 229.5L633.2 228.7L633.9 227.9L634.5 227.2L635.2 226.4L635.8 225.6L636.5 224.9L637.1 224.1L637.8 223.3L638.4 222.6L639.1 221.8L639.7 221.0L640.4 220.2L641.0 219.4L641.6 218.7L642.2 217.8L642.8 217.0L643.3 216.2L643.9 215.4L644.4 214.5L644.9 213.7L645.4 212.8L645.9 212.0L646.3 211.1L646.7 210.2L647.1 209.2L647.5 208.3L647.8 207.4L648.1 206.4L648.4 205.4L648.7 204.5L649.0 203.5L649.2 202.5L649.5 201.5L649.7 200.5L649.9 199.6L650.2 198.6L650.4 197.6L650.6 196.6L650.8 195.6L651.0 194.7L651.2 193.7L651.4 192.7L651.6 191.8L651.8 190.8L652.0 189.8L652.2 188.9L652.4 187.9L652.6 186.9L652.8 186.0L653.0 185.0L653.1 184.0L653.3 183.1L653.5 182.1L653.7 181.1L653.9 180.2L654.1 179.2L654.3 178.2L654.5 177.2L654.7 176.2L654.9 175.2L655.1 174.2L655.3 173.2L655.4 172.2L655.6 171.2L655.8 170.2L656.0 169.2L656.2 168.2L656.5 167.2L656.7 166.2L656.9 165.2L657.1 164.2L657.3 163.1L657.5 162.1L657.7 161.1L657.9 160.1L658.1 159.1L658.3 158.1L658.5 157.1L658.7 156.1L658.8 155.1L659.0 154.1L659.2 153.2L659.4 152.2L659.6 151.2L659.8 150.3L660.0 149.3L660.1 148.4L660.3 147.4L660.5 146.5L660.7 145.6L660.8 144.7L661.0 143.7L661.2 142.8L661.3 141.9L661.5 141.0L661.7 140.1L661.9 139.1L662.0 138.2L662.2 137.3L662.4 136.4L662.6 135.4L662.7 134.5L662.9 133.5L663.1 132.6L663.3 131.6L663.5 130.6L663.7 129.6L663.9 128.6L664.1 127.6L664.3 126.6L664.5 125.6L664.7 124.5L665.0 123.4L665.2 122.4L665.4 121.3L665.7 120.1L665.9 119.0L666.2 117.8L666.5 116.7L666.7 115.5L667.0 114.2L667.3 113.0L667.6 111.8L667.9 110.7L668.3 109.6L668.6 108.5L669.0 107.6L669.3 106.7L669.7 106.0L670.1 105.4L670.5 104.9L671.0 104.6L671.4 104.5L671.9 104.6L672.4 104.9L672.9 105.3L673.4 105.9L673.9 106.6L674.5 107.4L675.0 108.3L675.5 109.3L676.0 110.3L676.5 111.5L676.9 112.6L677.4 113.8L677.8 115.0L678.2 116.2L678.5 117.3L678.9 118.5L679.2 119.6L679.4 120.7L679.7 121.7L679.9 122.8L680.1 123.8L680.3 124.8L680.4 125.8L680.6 126.8L680.7 127.8L680.8 128.7L681.0 129.7L681.1 130.6L681.2 131.6L681.3 132.5L681.4 133.5L681.5 134.4L681.6 135.4L681.7 136.3L681.8 137.3L682.0 138.3L682.1 139.2L682.2 140.2L682.3 141.2L682.4 142.1L682.6 143.1L682.7 144.1L682.8 145.1L683.0 146.1L683.1 147.1L683.3 148.0L683.4 149.0L683.5 150.0L683.7 151.0L683.8 152.0L684.0 153.0L684.1 154.0L684.3 155.0L684.4 156.0L684.6 157.0L684.7 158.0L684.9 159.0L685.0 160.0L685.2 161.0L685.3 162.0L685.5 163.0L685.6 164.0L685.8 164.9L685.9 165.9L686.1 166.9L686.2 167.9L686.4 168.9L686.5 169.9L686.7 170.9L686.8 171.9L687.0 172.9L687.1 173.9L687.3 174.9L687.4 175.9L687.6 176.9L687.7 177.9L687.9 178.9L688.0 179.9L688.2 180.8L688.3 181.8L688.5 182.8L688.6 183.8L688.7 184.8L688.9 185.8L689.0 186.8L689.2 187.8L689.3 188.7L689.5 189.7L689.6 190.7L689.7 191.7L689.9 192.7L690.0 193.7L690.2 194.7L690.3 195.7L690.4 196.6L690.6 197.6L690.7 198.6L690.9 199.6L691.0 200.6L691.1 201.6L691.3 202.6L691.4 203.5L691.5 204.5L691.7 205.5L691.8 206.5L691.9 207.5L692.1 208.5L692.2 209.5L692.3 210.5L692.5 211.4L692.6 212.4L692.7 213.4L692.9 214.4L693.0 215.4L693.1 216.4L693.3 217.4L693.4 218.4L693.5 219.4L693.6 220.3L693.8 221.3L693.9 222.3L694.0 223.3L694.2 224.3L694.3 225.3L694.4 226.3L694.5 227.3L694.7 228.3L694.8 229.3L694.9 230.3L695.0 231.3L695.1 232.3L695.3 233.3L695.4 234.3L695.5 235.3L695.6 236.2L695.8 237.2L695.9 238.2L696.0 239.2L696.1 240.2L696.3 241.2L696.4 242.2L696.5 243.2L696.6 244.2L696.8 245.2L696.9 246.2L697.0 247.2L697.2 248.2L697.3 249.2L697.4 250.2L697.6 251.2L697.7 252.2L697.8 253.2L698.0 254.2L698.1 255.2L698.3 256.2L698.4 257.2L698.6 258.2L698.7 259.2L698.8 260.2L699.0 261.1L699.2 262.1L699.3 263.1L699.5 264.1L699.6 265.1L699.8 266.1L699.9 267.1L700.1 268.1L700.3 269.0L700.5 270.0L700.6 271.0L700.8 272.0L701.0 273.0L701.2 273.9L701.4 274.9L701.5 275.9L701.7 276.9L701.9 277.8L702.1 278.8L702.3 279.8L702.5 280.8L702.7 281.7L703.0 282.7L703.2 283.7L703.4 284.6L703.6 285.6L703.8 286.5L704.1 287.5L704.3 288.5L704.5 289.4L704.8 290.4L705.0 291.3L705.3 292.3L705.5 293.2L705.8 294.2L706.1 295.1L706.3 296.1L706.6 297.0L706.9 297.9L707.1 298.9L707.4 299.8L707.7 300.8L708.0 301.7L708.3 302.7L708.5 303.6L708.8 304.6L709.1 305.5L709.4 306.4L709.7 307.4L710.0 308.3L710.3 309.3L710.6 310.2L710.9 311.2L711.2 312.1L711.6 313.1L711.9 314.0L712.2 315.0L712.5 316.0L712.8 316.9L713.1 317.9L713.5 318.8L713.8 319.8L714.1 320.8L714.4 321.7L714.8 322.7L715.1 323.7L715.4 324.6L715.8 325.6L716.1 326.5L716.5 327.5L716.8 328.5L717.2 329.4L717.6 330.4L717.9 331.3L718.3 332.3L718.7 333.2L719.1 334.2L719.5 335.1L719.9 336.0L720.3 337.0L720.7 337.9L721.2 338.8L721.6 339.7L722.0 340.6L722.5 341.6L722.9 342.5L723.4 343.3L723.9 344.2L724.4 345.1L724.9 346.0L725.4 346.9L725.9 347.7L726.4 348.6L727.0 349.4L727.5 350.2L728.1 351.1L728.6 351.9L729.2 352.7L729.8 353.5L730.4 354.3L731.0 355.1L731.6 355.8L732.3 356.6L732.9 357.4L733.6 358.1L734.2 358.8L734.9 359.6L735.6 360.3L736.3 361.0L737.0 361.7L737.7 362.4L738.4 363.0L739.1 363.7L739.9 364.4L740.6 365.0L741.4 365.6L742.1 366.3L742.9 366.9L743.7 367.5L744.5 368.1L745.2 368.6L746.0 369.2L746.9 369.7L747.7 370.3L748.5 370.8L749.3 371.3L750.2 371.8L751.0 372.3L751.9 372.8L752.7 373.3L753.6 373.7L754.5 374.2L755.4 374.6L756.3 375.0L757.1 375.4L758.0 375.8L759.0 376.2L759.9 376.6L760.8 376.9L761.7 377.2L762.6 377.6L763.6 377.9L764.5 378.2L765.5 378.5L766.4 378.7L767.4 379.0L768.3 379.2L769.3 379.5L770.3 379.7L771.2 379.9L772.2 380.1L773.2 380.3L774.2 380.5L775.2 380.7L776.2 380.9L777.2 381.1L778.2 381.2L779.2 381.4L780.2 381.5L781.2 381.7L782.2 381.8L783.2 381.9L784.2 382.0L785.2 382.1L786.2 382.3L787.2 382.4L788.3 382.5L789.3 382.6L790.3 382.6L791.3 382.7L792.3 382.8L793.3 382.9L794.4 383.0L795.4 383.1L796.4 383.1L797.4 383.2L798.4 383.3L799.5 383.4L800.5 383.4L801.5 383.5L802.5 383.6L803.5 383.6L804.5 383.7L805.6 383.8L806.6 383.8L807.6 383.9L808.6 384.0L809.6 384.1L810.6 384.1L811.6 384.2L812.6 384.3L813.6 384.3L814.6 384.4L815.6 384.5L816.6 384.5L817.6 384.6L818.6 384.7L819.6 384.7L820.6 384.8L821.6 384.8L822.6 384.9L823.6 385.0L824.6 385.0L825.6 385.1L826.6 385.2L827.6 385.2L828.6 385.3L829.6 385.3L830.6 385.4L831.6 385.5L832.6 385.5L833.6 385.6L834.6 385.6L835.6 385.7L836.6 385.8L837.6 385.8L838.6 385.9L839.6 385.9L840.5 386.0L841.5 386.1L842.5 386.1L843.5 386.2L844.5 386.2L845.5 386.3L846.5 386.3L847.5 386.4L848.5 386.4L849.5 386.5L850.4 386.5L851.4 386.6L852.4 386.7L853.4 386.7L854.4 386.8L855.4 386.8L856.4 386.9L857.4 386.9L858.3 387.0L859.3 387.0L860.3 387.1L861.3 387.1L862.3 387.2L863.3 387.2L864.3 387.3L865.3 387.3L866.3 387.3L867.2 387.4L868.2 387.4L869.2 387.5L870.2 387.5L871.2 387.6L872.2 387.6L873.2 387.7L874.2 387.7L875.2 387.7L876.2 387.8L877.1 387.8L878.1 387.9L879.1 387.9L880.1 388.0L881.1 388.0L882.1 388.0L883.1 388.1L884.1 388.1L885.1 388.2L886.1 388.2L887.1 388.2L888.1 388.3L889.1 388.3L890.1 388.3L891.1 388.4L892.1 388.4L893.1 388.4L894.1 388.5L895.1 388.5L896.1 388.5L897.1 388.6L898.1 388.6L899.1 388.6L900.1 388.7L901.1 388.7L902.1 388.7L903.1 388.8L904.1 388.8L905.1 388.8L906.1 388.9L907.1 388.9L908.1 388.9L909.2 388.9L910.2 389.0L911.2 389.0L912.2 389.0L913.2 389.0L914.2 389.1L915.2 389.1L916.3 389.1L917.3 389.1L918.3 389.2L919.3 389.2" fill="none" stroke="#8099ff" stroke-width="6.2" stroke-linejoin="round" stroke-linecap="butt"/>
<path d="M131.6 406.4L132.6 406.4L133.6 406.4L134.6 406.4L135.6 406.3L136.6 406.3L137.6 406.3L138.6 406.3L139.6 406.3L140.6 406.3L141.6 406.2L142.6 406.2L143.6 406.2L144.6 406.2L145.6 406.2L146.6 406.2L147.6 406.2L148.6 406.2L149.6 406.2L150.6 406.2L151.6 406.2L152.6 406.2L153.6 406.2L154.6 406.2L155.6 406.2L156.6 406.2L157.6 406.2L158.6 406.3L159.6 406.3L160.6 406.3L161.6 406.4L162.5 406.4L163.5 406.4L164.5 406.5L165.5 406.5L166.5 406.6L167.5 406.7L168.5 406.7L169.5 406.8L170.5 406.9L171.5 407.0L172.5 407.0L173.5 407.1L174.5 407.2L175.5 407.3L176.5 407.4L177.4 407.6L178.4 407.7L179.4 407.8L180.4 407.9L181.4 408.1L182.4 408.2L183.4 408.4L184.4 408.5L185.3 408.7L186.3 408.9L187.3 409.1L188.3 409.2L189.3 409.4L190.3 409.6L191.3 409.9L192.2 410.1L193.2 410.3L194.2 410.5L195.2 410.8L196.2 411.0L197.1 411.3L198.1 411.5L199.1 411.8L200.1 412.1L201.1 412.4L202.0 412.7L203.0 412.9L204.0 413.2L205.0 413.5L205.9 413.8L206.9 414.1L207.9 414.3L208.9 414.6L209.9 414.9L210.8 415.1L211.8 415.4L212.8 415.6L213.8 415.8L214.7 416.0L215.7 416.2L216.7 416.4L217.7 416.6L218.7 416.8L219.6 416.9L220.6 417.0L221.6 417.2L222.6 417.2L223.6 417.3L224.5 417.4L225.5 417.4L226.5 417.5L227.5 417.5L228.5 417.5L229.4 417.4L230.4 417.4L231.4 417.4L232.4 417.3L233.4 417.2L234.4 417.2L235.3 417.1L236.3 417.0L237.3 416.8L238.3 416.7L239.3 416.6L240.2 416.4L241.2 416.3L242.2 416.1L243.2 415.9L244.1 415.7L245.1 415.6L246.1 415.4L247.1 415.2L248.0 414.9L249.0 414.7L250.0 414.5L250.9 414.3L251.9 414.0L252.9 413.8L253.8 413.6L254.8 413.3L255.8 413.0L256.7 412.8L257.7 412.5L258.6 412.3L259.6 412.0L260.6 411.7L261.5 411.4L262.5 411.2L263.4 410.9L264.4 410.6L265.3 410.3L266.3 410.0L267.2 409.7L268.2 409.4L269.1 409.1L270.1 408.8L271.0 408.5L272.0 408.2L272.9 407.9L273.9 407.5L274.8 407.2L275.8 406.9L276.7 406.6L277.7 406.3L278.6 405.9L279.6 405.6L280.5 405.3L281.5 405.0L282.4 404.6L283.3 404.3L284.3 404.0L285.2 403.6L286.2 403.3L287.1 403.0L288.1 402.7L289.0 402.3L290.0 402.0L290.9 401.7L291.9 401.3L292.8 401.0L293.8 400.7L294.7 400.3L295.6 400.0L296.6 399.7L297.5 399.4L298.5 399.0L299.4 398.7L300.4 398.4L301.3 398.1L302.3 397.8L303.2 397.4L304.2 397.1L305.1 396.8L306.1 396.5L307.0 396.2L308.0 395.9L309.0 395.6L309.9 395.3L310.9 395.0L311.8 394.7L312.8 394.4L313.8 394.1L314.7 393.9L315.7 393.6L316.6 393.3L317.6 393.0L318.6 392.8L319.5 392.5L320.5 392.2L321.5 392.0L322.4 391.7L323.4 391.5L324.4 391.3L325.4 391.0L326.3 390.8L327.3 390.6L328.3 390.3L329.3 390.1L330.2 389.9L331.2 389.7L332.2 389.5L333.2 389.3L334.2 389.1L335.2 388.9L336.1 388.7L337.1 388.5L338.1 388.4L339.1 388.2L340.1 388.0L341.1 387.8L342.1 387.7L343.1 387.5L344.1 387.4L345.0 387.2L346.0 387.1L347.0 386.9L348.0 386.8L349.0 386.7L350.0 386.5L351.0 386.4L352.0 386.3L353.0 386.2L354.0 386.1L355.0 386.0L356.0 385.9L357.0 385.8L358.0 385.7L359.0 385.6L360.0 385.5L361.0 385.4L362.0 385.4L363.0 385.3L364.0 385.2L365.0 385.2L366.0 385.1L367.0 385.0L368.0 385.0L369.0 385.0L370.0 384.9L371.0 384.9L371.9 384.8L372.9 384.8L373.9 384.8L374.9 384.8L375.9 384.7L376.9 384.7L377.9 384.7L378.9 384.7L379.9 384.7L380.9 384.7L381.9 384.7L382.9 384.7L383.9 384.7L384.9 384.8L385.9 384.8L386.9 384.8L387.9 384.8L388.9 384.8L389.9 384.9L390.9 384.9L391.9 384.9L392.9 385.0L393.9 385.0L394.9 385.0L395.8 385.1L396.8 385.1L397.8 385.2L398.8 385.2L399.8 385.3L400.8 385.3L401.8 385.4L402.8 385.4L403.8 385.5L404.8 385.5L405.8 385.6L406.8 385.6L407.8 385.7L408.8 385.8L409.8 385.8L410.8 385.9L411.8 385.9L412.8 386.0L413.8 386.1L414.8 386.1L415.8 386.2L416.7 386.3L417.7 386.3L418.7 386.4L419.7 386.4L420.7 386.5L421.7 386.6L422.7 386.6L423.7 386.7L424.7 386.8L425.7 386.8L426.7 386.9L427.7 386.9L428.7 387.0L429.7 387.0L430.7 387.1L431.7 387.1L432.7 387.2L433.7 387.2L434.7 387.3L435.7 387.3L436.7 387.4L437.7 387.4L438.7 387.5L439.7 387.5L440.7 387.5L441.7 387.6L442.7 387.6L443.7 387.6L444.7 387.7L445.7 387.7L446.7 387.7L447.7 387.7L448.7 387.8L449.7 387.8L450.7 387.8L451.7 387.8L452.7 387.8L453.8 387.8L454.8 387.8L455.8 387.8L456.8 387.8L457.8 387.8L458.8 387.8L459.8 387.8L460.8 387.8L461.8 387.8L462.8 387.7L463.8 387.7L464.8 387.7L465.8 387.7L466.8 387.6L467.8 387.6L468.8 387.5L469.8 387.5L470.8 387.5L471.8 387.4L472.8 387.4L473.8 387.3L474.8 387.2L475.8 387.2L476.8 387.1L477.8 387.0L478.8 387.0L479.8 386.9L480.8 386.8L481.8 386.7L482.8 386.6L483.8 386.5L484.8 386.4L485.8 386.3L486.8 386.2L487.8 386.1L488.7 386.0L489.7 385.9L490.7 385.8L491.7 385.7L492.7 385.5L493.7 385.4L494.7 385.3L495.7 385.1L496.7 385.0L497.6 384.8L498.6 384.7L499.6 384.5L500.6 384.4L501.6 384.2L502.6 384.0L503.5 383.8L504.5 383.7L505.5 383.5L506.5 383.3L507.4 383.1L508.4 382.9L509.4 382.7L510.4 382.5L511.3 382.3L512.3 382.0L513.3 381.8L514.2 381.6L515.2 381.4L516.2 381.1L517.1 380.9L518.1 380.6L519.1 380.4L520.0 380.1L521.0 379.9L521.9 379.6L522.9 379.3L523.8 379.0L524.8 378.7L525.7 378.4L526.7 378.2L527.6 377.8L528.6 377.5L529.5 377.2L530.5 376.9L531.4 376.6L532.4 376.3L533.3 375.9L534.2 375.6L535.2 375.2L536.1 374.9L537.0 374.5L538.0 374.1L538.9 373.8L539.8 373.4L540.8 373.0L541.7 372.6L542.6 372.2L543.5 371.8L544.4 371.4L545.3 371.0L546.3 370.6L547.2 370.2L548.1 369.7L549.0 369.3L549.9 368.9L550.8 368.4L551.7 368.0L552.6 367.5L553.5 367.1L554.3 366.6L555.2 366.1L556.1 365.7L557.0 365.2L557.9 364.7L558.7 364.2L559.6 363.7L560.5 363.2L561.3 362.7L562.2 362.2L563.1 361.7L563.9 361.1L564.8 360.6L565.6 360.1L566.5 359.5L567.3 359.0L568.1 358.4L569.0 357.9L569.8 357.3L570.6 356.8L571.4 356.2L572.3 355.6L573.1 355.0L573.9 354.4L574.7 353.9L575.5 353.3L576.3 352.7L577.1 352.1L577.9 351.5L578.6 350.8L579.4 350.2L580.2 349.6L581.0 349.0L581.7 348.3L582.5 347.7L583.2 347.1L584.0 346.4L584.7 345.8L585.5 345.1L586.2 344.4L586.9 343.8L587.7 343.1L588.4 342.4L589.1 341.7L589.8 341.0L590.5 340.3L591.2 339.6L591.9 338.9L592.6 338.2L593.3 337.5L594.0 336.8L594.6 336.1L595.3 335.3L595.9 334.6L596.6 333.8L597.2 333.1L597.9 332.3L598.5 331.6L599.2 330.8L599.8 330.0L600.4 329.3L601.0 328.5L601.6 327.7L602.2 326.9L602.8 326.1L603.4 325.3L603.9 324.5L604.5 323.7L605.1 322.9L605.6 322.0L606.2 321.2L606.7 320.4L607.3 319.5L607.8 318.7L608.3 317.8L608.8 317.0L609.3 316.1L609.8 315.2L610.3 314.3L610.8 313.5L611.3 312.6L611.8 311.7L612.2 310.8L612.7 309.9L613.1 309.0L613.6 308.1L614.0 307.2L614.5 306.2L614.9 305.3L615.4 304.4L615.8 303.5L616.3 302.6L616.7 301.7L617.2 300.8L617.6 299.9L618.1 299.0L618.6 298.1L619.0 297.2L619.5 296.3L620.0 295.5L620.5 294.6L621.0 293.7L621.5 292.9L622.0 292.1L622.6 291.2L623.1 290.4L623.7 289.6L624.3 288.8L624.9 288.0L625.5 287.2L626.1 286.5L626.7 285.7L627.4 285.0L628.1 284.3L628.8 283.6L629.5 282.9L630.2 282.3L631.0 281.6L631.7 281.0L632.5 280.4L633.3 279.7L634.1 279.1L634.9 278.5L635.7 277.9L636.5 277.3L637.3 276.7L638.1 276.1L638.9 275.4L639.6 274.8L640.4 274.1L641.1 273.5L641.8 272.8L642.5 272.0L643.1 271.3L643.7 270.5L644.3 269.7L644.9 268.9L645.4 268.0L645.9 267.2L646.3 266.3L646.8 265.4L647.2 264.4L647.6 263.5L648.0 262.6L648.4 261.6L648.8 260.7L649.1 259.7L649.5 258.8L649.8 257.8L650.2 256.9L650.5 255.9L650.8 255.0L651.2 254.0L651.5 253.1L651.8 252.1L652.1 251.2L652.4 250.2L652.7 249.3L653.0 248.3L653.2 247.4L653.5 246.4L653.8 245.4L654.1 244.5L654.3 243.5L654.6 242.6L654.8 241.6L655.1 240.7L655.3 239.7L655.6 238.7L655.8 237.8L656.0 236.8L656.3 235.9L656.5 234.9L656.7 234.0L657.0 233.0L657.2 232.0L657.4 231.1L657.6 230.1L657.9 229.2L658.1 228.2L658.3 227.3L658.6 226.3L658.8 225.3L659.0 224.4L659.3 223.4L659.5 222.5L659.8 221.5L660.0 220.6L660.3 219.6L660.6 218.6L660.9 217.7L661.1 216.7L661.4 215.8L661.8 214.8L662.1 213.8L662.4 212.8L662.7 211.8L663.1 210.7L663.4 209.7L663.7 208.5L664.1 207.4L664.4 206.2L664.8 205.0L665.1 203.7L665.5 202.5L665.9 201.3L666.3 200.1L666.6 199.0L667.1 197.9L667.5 196.9L667.9 195.9L668.4 195.1L668.8 194.4L669.3 193.7L669.8 193.3L670.3 192.9L670.9 192.7L671.5 192.7L672.1 192.9L672.7 193.3L673.3 193.7L673.9 194.4L674.6 195.1L675.2 195.9L675.8 196.8L676.4 197.8L676.9 198.8L677.4 199.8L677.8 200.8L678.2 201.8L678.6 202.8L679.0 203.8L679.3 204.8L679.5 205.8L679.8 206.8L680.0 207.7L680.2 208.7L680.4 209.7L680.6 210.7L680.8 211.7L681.0 212.7L681.1 213.7L681.3 214.7L681.5 215.7L681.7 216.7L681.9 217.7L682.1 218.6L682.3 219.6L682.5 220.6L682.7 221.6L682.9 222.6L683.1 223.5L683.3 224.5L683.5 225.5L683.7 226.5L683.9 227.5L684.1 228.4L684.3 229.4L684.6 230.4L684.8 231.4L685.0 232.4L685.2 233.3L685.4 234.3L685.7 235.3L685.9 236.3L686.1 237.2L686.4 238.2L686.6 239.2L686.8 240.1L687.0 241.1L687.3 242.1L687.5 243.1L687.7 244.0L688.0 245.0L688.2 246.0L688.4 247.0L688.6 247.9L688.9 248.9L689.1 249.9L689.3 250.8L689.6 251.8L689.8 252.8L690.0 253.8L690.2 254.7L690.5 255.7L690.7 256.7L690.9 257.6L691.1 258.6L691.3 259.6L691.5 260.6L691.8 261.5L692.0 262.5L692.2 263.5L692.4 264.5L692.6 265.5L692.8 266.4L693.0 267.4L693.2 268.4L693.4 269.4L693.6 270.3L693.8 271.3L694.0 272.3L694.1 273.3L694.3 274.3L694.5 275.2L694.7 276.2L694.9 277.2L695.1 278.2L695.2 279.2L695.4 280.2L695.6 281.1L695.8 282.1L696.0 283.1L696.1 284.1L696.3 285.1L696.5 286.1L696.7 287.0L696.9 288.0L697.0 289.0L697.2 290.0L697.4 291.0L697.6 291.9L697.8 292.9L698.0 293.9L698.2 294.9L698.4 295.9L698.5 296.9L698.7 297.8L698.9 298.8L699.1 299.8L699.3 300.8L699.6 301.7L699.8 302.7L700.0 303.7L700.2 304.7L700.4 305.6L700.6 306.6L700.9 307.6L701.1 308.6L701.3 309.5L701.6 310.5L701.8 311.5L702.1 312.4L702.3 313.4L702.6 314.4L702.8 315.3L703.1 316.3L703.4 317.3L703.7 318.2L704.0 319.2L704.3 320.1L704.6 321.1L704.9 322.1L705.2 323.0L705.5 324.0L705.8 324.9L706.1 325.9L706.5 326.8L706.8 327.8L707.2 328.7L707.5 329.6L707.9 330.6L708.3 331.5L708.7 332.5L709.1 333.4L709.5 334.3L709.9 335.3L710.3 336.2L710.7 337.1L711.1 338.0L711.6 338.9L712.0 339.9L712.5 340.8L712.9 341.7L713.4 342.6L713.9 343.5L714.4 344.4L714.9 345.3L715.4 346.1L715.9 347.0L716.4 347.9L716.9 348.7L717.5 349.6L718.0 350.4L718.6 351.3L719.1 352.1L719.7 353.0L720.3 353.8L720.8 354.6L721.4 355.4L722.0 356.2L722.6 357.0L723.3 357.8L723.9 358.6L724.5 359.3L725.1 360.1L725.8 360.8L726.4 361.6L727.1 362.3L727.8 363.0L728.5 363.7L729.2 364.4L729.8 365.1L730.6 365.8L731.3 366.5L732.0 367.1L732.7 367.8L733.5 368.4L734.2 369.0L735.0 369.6L735.7 370.2L736.5 370.8L737.3 371.4L738.1 371.9L738.8 372.5L739.6 373.0L740.5 373.5L741.3 374.0L742.1 374.5L742.9 375.0L743.8 375.5L744.6 375.9L745.5 376.4L746.4 376.8L747.2 377.2L748.1 377.6L749.0 378.0L749.9 378.4L750.8 378.7L751.7 379.1L752.6 379.4L753.5 379.8L754.5 380.1L755.4 380.4L756.3 380.7L757.3 381.0L758.2 381.3L759.2 381.6L760.1 381.8L761.1 382.1L762.1 382.3L763.0 382.6L764.0 382.8L765.0 383.0L766.0 383.2L767.0 383.4L768.0 383.6L769.0 383.8L770.0 384.0L771.0 384.2L772.0 384.4L773.0 384.5L774.0 384.7L775.0 384.8L776.0 385.0L777.0 385.1L778.0 385.2L779.1 385.4L780.1 385.5L781.1 385.6L782.1 385.7L783.2 385.8L784.2 385.9L785.2 386.0L786.3 386.1L787.3 386.2L788.3 386.3L789.3 386.4L790.4 386.5L791.4 386.6L792.4 386.6L793.5 386.7L794.5 386.8L795.5 386.8L796.6 386.9L797.6 387.0L798.6 387.0L799.6 387.1L800.7 387.2L801.7 387.2L802.7 387.3L803.7 387.4L804.7 387.4L805.8 387.5L806.8 387.5L807.8 387.6L808.8 387.6L809.8 387.7L810.8 387.7L811.8 387.8L812.8 387.9L813.8 387.9L814.8 388.0L815.8 388.0L816.8 388.1L817.8 388.1L818.8 388.2L819.8 388.2L820.8 388.2L821.8 388.3L822.8 388.3L823.8 388.4L824.8 388.4L825.8 388.5L826.8 388.5L827.8 388.6L828.8 388.6L829.8 388.6L830.8 388.7L831.7 388.7L832.7 388.8L833.7 388.8L834.7 388.8L835.7 388.9L836.7 388.9L837.7 388.9L838.6 389.0L839.6 389.0L840.6 389.1L841.6 389.1L842.6 389.1L843.6 389.2L844.5 389.2L845.5 389.2L846.5 389.2L847.5 389.3L848.5 389.3L849.4 389.3L850.4 389.4L851.4 389.4L852.4 389.4L853.4 389.5L854.3 389.5L855.3 389.5L856.3 389.5L857.3 389.6L858.3 389.6L859.2 389.6L860.2 389.7L861.2 389.7L862.2 389.7L863.2 389.7L864.1 389.8L865.1 389.8L866.1 389.8L867.1 389.8L868.1 389.9L869.1 389.9L870.0 389.9L871.0 389.9L872.0 390.0L873.0 390.0L874.0 390.0L875.0 390.0L875.9 390.0L876.9 390.1L877.9 390.1L878.9 390.1L879.9 390.1L880.9 390.2L881.9 390.2L882.9 390.2L883.9 390.2L884.9 390.2L885.8 390.3L886.8 390.3L887.8 390.3L888.8 390.3L889.8 390.4L890.8 390.4L891.8 390.4L892.8 390.4L893.8 390.4L894.8 390.5L895.8 390.5L896.8 390.5L897.9 390.5L898.9 390.5L899.9 390.6L900.9 390.6L901.9 390.6L902.9 390.6L903.9 390.7L904.9 390.7L906.0 390.7L907.0 390.7L908.0 390.7L909.0 390.8L910.0 390.8L911.1 390.8L912.1 390.8L913.1 390.9L914.2 390.9L915.2 390.9L916.2 390.9L917.3 391.0L918.3 391.0L919.3 391.0" fill="none" stroke="#ff7b7b" stroke-width="6.2" stroke-linejoin="round" stroke-linecap="butt"/>
<path d="M131.6 405.5L132.6 405.4L133.6 405.4L134.6 405.3L135.6 405.2L136.6 405.2L137.5 405.1L138.5 405.0L139.5 404.9L140.5 404.8L141.5 404.7L142.5 404.6L143.4 404.5L144.4 404.4L145.4 404.3L146.4 404.2L147.4 404.1L148.3 403.9L149.3 403.8L150.3 403.7L151.3 403.6L152.2 403.5L153.2 403.3L154.2 403.2L155.2 403.1L156.2 403.0L157.1 402.9L158.1 402.7L159.1 402.6L160.1 402.5L161.1 402.4L162.0 402.3L163.0 402.2L164.0 402.1L165.0 402.0L166.0 401.9L166.9 401.8L167.9 401.7L168.9 401.7L169.9 401.6L170.9 401.5L171.9 401.5L172.8 401.4L173.8 401.4L174.8 401.3L175.8 401.3L176.8 401.3L177.8 401.3L178.8 401.3L179.8 401.3L180.8 401.3L181.8 401.3L182.8 401.3L183.8 401.4L184.8 401.4L185.8 401.5L186.8 401.6L187.8 401.6L188.8 401.7L189.8 401.8L190.9 401.9L191.9 402.0L192.9 402.0L193.9 402.1L194.9 402.2L195.9 402.3L196.9 402.4L197.9 402.5L199.0 402.6L200.0 402.7L201.0 402.8L202.0 402.9L203.0 403.0L204.0 403.1L205.0 403.2L206.0 403.3L207.0 403.4L208.0 403.4L209.1 403.5L210.1 403.6L211.1 403.6L212.1 403.7L213.1 403.7L214.1 403.7L215.1 403.8L216.1 403.8L217.1 403.8L218.1 403.8L219.1 403.7L220.0 403.7L221.0 403.7L222.0 403.6L223.0 403.6L224.0 403.5L225.0 403.4L225.9 403.3L226.9 403.2L227.9 403.0L228.9 402.9L229.8 402.8L230.8 402.6L231.8 402.5L232.7 402.3L233.7 402.1L234.7 401.9L235.6 401.7L236.6 401.5L237.6 401.3L238.5 401.1L239.5 400.8L240.4 400.6L241.4 400.3L242.3 400.1L243.3 399.8L244.3 399.5L245.2 399.3L246.2 399.0L247.1 398.7L248.1 398.4L249.0 398.1L250.0 397.8L250.9 397.5L251.8 397.2L252.8 396.9L253.7 396.6L254.7 396.2L255.6 395.9L256.6 395.6L257.5 395.2L258.5 394.9L259.4 394.6L260.4 394.2L261.3 393.9L262.2 393.5L263.2 393.2L264.1 392.8L265.1 392.5L266.0 392.1L267.0 391.8L267.9 391.4L268.9 391.1L269.8 390.7L270.7 390.4L271.7 390.0L272.6 389.7L273.6 389.3L274.5 389.0L275.5 388.6L276.4 388.2L277.4 387.9L278.3 387.5L279.3 387.2L280.2 386.8L281.2 386.5L282.1 386.1L283.1 385.8L284.0 385.4L285.0 385.1L285.9 384.8L286.9 384.4L287.8 384.1L288.8 383.7L289.7 383.4L290.7 383.1L291.6 382.7L292.6 382.4L293.5 382.1L294.5 381.7L295.4 381.4L296.4 381.1L297.3 380.8L298.3 380.5L299.2 380.2L300.2 379.8L301.2 379.5L302.1 379.2L303.1 378.9L304.0 378.6L305.0 378.4L305.9 378.1L306.9 377.8L307.9 377.5L308.8 377.2L309.8 377.0L310.7 376.7L311.7 376.4L312.7 376.2L313.6 375.9L314.6 375.7L315.5 375.4L316.5 375.2L317.5 375.0L318.4 374.7L319.4 374.5L320.4 374.3L321.3 374.1L322.3 373.9L323.3 373.7L324.2 373.5L325.2 373.3L326.2 373.1L327.1 373.0L328.1 372.8L329.1 372.6L330.0 372.5L331.0 372.3L332.0 372.2L333.0 372.1L333.9 371.9L334.9 371.8L335.9 371.7L336.9 371.6L337.8 371.5L338.8 371.4L339.8 371.3L340.8 371.3L341.7 371.2L342.7 371.1L343.7 371.1L344.7 371.0L345.7 371.0L346.6 371.0L347.6 371.0L348.6 371.0L349.6 371.0L350.6 371.0L351.6 371.0L352.6 371.0L353.5 371.1L354.5 371.1L355.5 371.2L356.5 371.2L357.5 371.3L358.5 371.3L359.5 371.4L360.5 371.5L361.5 371.6L362.4 371.7L363.4 371.8L364.4 371.9L365.4 372.0L366.4 372.1L367.4 372.3L368.4 372.4L369.4 372.5L370.4 372.7L371.4 372.8L372.4 372.9L373.4 373.1L374.4 373.2L375.4 373.4L376.4 373.6L377.4 373.7L378.4 373.9L379.4 374.1L380.4 374.3L381.3 374.4L382.3 374.6L383.3 374.8L384.3 375.0L385.3 375.2L386.3 375.4L387.3 375.6L388.3 375.7L389.3 375.9L390.3 376.1L391.3 376.3L392.3 376.5L393.3 376.7L394.3 376.9L395.3 377.1L396.3 377.3L397.3 377.5L398.3 377.7L399.3 377.9L400.3 378.1L401.3 378.3L402.3 378.5L403.3 378.7L404.3 378.9L405.3 379.1L406.3 379.3L407.3 379.5L408.3 379.7L409.3 379.9L410.3 380.1L411.3 380.3L412.3 380.5L413.2 380.6L414.2 380.8L415.2 381.0L416.2 381.2L417.2 381.3L418.2 381.5L419.2 381.7L420.2 381.8L421.2 382.0L422.2 382.1L423.2 382.3L424.2 382.4L425.1 382.6L426.1 382.7L427.1 382.9L428.1 383.0L429.1 383.1L430.1 383.3L431.1 383.4L432.1 383.5L433.1 383.7L434.1 383.8L435.0 383.9L436.0 384.0L437.0 384.1L438.0 384.2L439.0 384.4L440.0 384.5L441.0 384.6L442.0 384.7L442.9 384.8L443.9 384.9L444.9 385.0L445.9 385.1L446.9 385.1L447.9 385.2L448.9 385.3L449.8 385.4L450.8 385.5L451.8 385.5L452.8 385.6L453.8 385.7L454.8 385.8L455.8 385.8L456.8 385.9L457.7 385.9L458.7 386.0L459.7 386.0L460.7 386.1L461.7 386.1L462.7 386.2L463.7 386.2L464.7 386.3L465.6 386.3L466.6 386.4L467.6 386.4L468.6 386.4L469.6 386.4L470.6 386.5L471.6 386.5L472.6 386.5L473.6 386.5L474.5 386.5L475.5 386.6L476.5 386.6L477.5 386.6L478.5 386.6L479.5 386.6L480.5 386.6L481.5 386.6L482.5 386.6L483.5 386.6L484.5 386.5L485.5 386.5L486.5 386.5L487.4 386.5L488.4 386.5L489.4 386.5L490.4 386.4L491.4 386.4L492.4 386.4L493.4 386.3L494.4 386.3L495.4 386.3L496.4 386.2L497.4 386.2L498.4 386.1L499.4 386.1L500.4 386.0L501.4 386.0L502.4 385.9L503.4 385.8L504.4 385.8L505.4 385.7L506.4 385.6L507.4 385.6L508.4 385.5L509.4 385.4L510.4 385.3L511.4 385.2L512.4 385.1L513.4 385.0L514.4 385.0L515.4 384.9L516.4 384.8L517.4 384.7L518.4 384.5L519.4 384.4L520.4 384.3L521.4 384.2L522.4 384.1L523.4 384.0L524.4 383.8L525.4 383.7L526.3 383.6L527.3 383.4L528.3 383.3L529.3 383.1L530.3 383.0L531.3 382.8L532.3 382.7L533.3 382.5L534.3 382.4L535.3 382.2L536.3 382.0L537.3 381.9L538.2 381.7L539.2 381.5L540.2 381.3L541.2 381.1L542.2 381.0L543.2 380.8L544.1 380.6L545.1 380.4L546.1 380.2L547.1 379.9L548.1 379.7L549.0 379.5L550.0 379.3L551.0 379.1L552.0 378.8L552.9 378.6L553.9 378.4L554.9 378.1L555.9 377.9L556.8 377.6L557.8 377.4L558.8 377.1L559.7 376.9L560.7 376.6L561.6 376.3L562.6 376.1L563.6 375.8L564.5 375.5L565.5 375.2L566.4 374.9L567.4 374.6L568.3 374.3L569.3 374.0L570.2 373.7L571.2 373.4L572.1 373.1L573.1 372.8L574.0 372.4L575.0 372.1L575.9 371.8L576.8 371.4L577.8 371.1L578.7 370.8L579.6 370.4L580.6 370.0L581.5 369.7L582.4 369.3L583.4 369.0L584.3 368.6L585.2 368.2L586.1 367.8L587.0 367.4L587.9 367.0L588.9 366.6L589.8 366.2L590.7 365.8L591.6 365.4L592.5 365.0L593.4 364.5L594.2 364.1L595.1 363.6L596.0 363.1L596.9 362.7L597.7 362.2L598.6 361.6L599.4 361.1L600.3 360.6L601.1 360.0L601.9 359.5L602.7 358.9L603.5 358.3L604.3 357.6L605.1 357.0L605.8 356.3L606.6 355.7L607.3 355.0L608.1 354.3L608.8 353.5L609.5 352.8L610.3 352.1L611.0 351.4L611.7 350.7L612.5 349.9L613.2 349.2L613.9 348.5L614.7 347.8L615.4 347.2L616.2 346.5L617.0 345.9L617.7 345.3L618.5 344.7L619.4 344.1L620.2 343.6L621.1 343.1L621.9 342.7L622.8 342.3L623.7 341.9L624.6 341.5L625.6 341.1L626.5 340.8L627.5 340.5L628.4 340.2L629.4 339.9L630.3 339.6L631.3 339.3L632.3 339.0L633.2 338.6L634.2 338.3L635.1 338.0L636.1 337.7L637.0 337.3L637.9 336.9L638.8 336.5L639.7 336.1L640.6 335.6L641.4 335.1L642.3 334.6L643.1 334.0L643.8 333.4L644.6 332.8L645.3 332.2L646.0 331.5L646.7 330.8L647.4 330.1L648.0 329.3L648.6 328.6L649.3 327.8L649.9 327.0L650.5 326.2L651.1 325.4L651.7 324.6L652.2 323.7L652.8 322.9L653.4 322.1L653.9 321.2L654.5 320.4L655.1 319.5L655.6 318.7L656.2 317.8L656.8 317.0L657.3 316.2L657.9 315.3L658.5 314.5L659.1 313.7L659.7 312.9L660.3 312.1L660.9 311.3L661.5 310.5L662.1 309.6L662.7 308.7L663.3 307.8L663.9 306.8L664.5 305.8L665.0 304.8L665.6 303.8L666.2 302.8L666.8 301.8L667.4 300.9L668.0 300.1L668.6 299.3L669.2 298.6L669.9 298.0L670.5 297.6L671.1 297.2L671.8 297.1L672.5 297.1L673.2 297.2L673.9 297.5L674.6 297.9L675.4 298.4L676.1 299.1L676.8 299.8L677.5 300.6L678.3 301.5L679.0 302.5L679.6 303.4L680.3 304.5L681.0 305.5L681.6 306.6L682.2 307.7L682.8 308.7L683.3 309.7L683.8 310.8L684.3 311.8L684.7 312.8L685.1 313.7L685.5 314.7L685.9 315.6L686.3 316.6L686.6 317.5L687.0 318.4L687.3 319.3L687.6 320.2L687.9 321.1L688.2 322.0L688.5 322.9L688.8 323.8L689.1 324.7L689.4 325.6L689.6 326.5L689.9 327.4L690.2 328.3L690.5 329.3L690.9 330.2L691.2 331.1L691.5 332.0L691.8 332.9L692.2 333.9L692.5 334.8L692.9 335.7L693.2 336.7L693.6 337.6L694.0 338.5L694.4 339.5L694.8 340.4L695.2 341.3L695.6 342.2L696.0 343.2L696.4 344.1L696.8 345.0L697.3 346.0L697.7 346.9L698.2 347.8L698.6 348.7L699.1 349.6L699.6 350.5L700.0 351.4L700.5 352.3L701.0 353.2L701.5 354.1L702.1 354.9L702.6 355.8L703.1 356.7L703.7 357.5L704.2 358.4L704.8 359.2L705.4 360.0L705.9 360.9L706.5 361.7L707.1 362.5L707.7 363.3L708.4 364.0L709.0 364.8L709.6 365.6L710.3 366.3L710.9 367.0L711.6 367.8L712.3 368.5L712.9 369.2L713.6 369.8L714.4 370.5L715.1 371.2L715.8 371.8L716.5 372.4L717.3 373.0L718.0 373.6L718.8 374.2L719.6 374.8L720.4 375.3L721.2 375.8L722.0 376.3L722.8 376.8L723.6 377.3L724.5 377.8L725.3 378.3L726.2 378.7L727.1 379.1L727.9 379.5L728.8 379.9L729.7 380.3L730.6 380.7L731.5 381.1L732.4 381.4L733.3 381.8L734.3 382.1L735.2 382.4L736.1 382.7L737.1 383.0L738.0 383.3L739.0 383.6L739.9 383.8L740.9 384.1L741.9 384.3L742.9 384.6L743.8 384.8L744.8 385.0L745.8 385.2L746.8 385.4L747.8 385.6L748.8 385.8L749.8 386.0L750.8 386.2L751.9 386.3L752.9 386.5L753.9 386.7L754.9 386.8L755.9 387.0L757.0 387.1L758.0 387.2L759.0 387.4L760.0 387.5L761.1 387.6L762.1 387.7L763.1 387.8L764.2 387.9L765.2 388.0L766.2 388.1L767.2 388.2L768.3 388.3L769.3 388.4L770.3 388.5L771.4 388.6L772.4 388.7L773.4 388.8L774.4 388.9L775.5 389.0L776.5 389.0L777.5 389.1L778.5 389.2L779.5 389.3L780.6 389.4L781.6 389.4L782.6 389.5L783.6 389.6L784.6 389.6L785.6 389.7L786.7 389.8L787.7 389.8L788.7 389.9L789.7 390.0L790.7 390.0L791.7 390.1L792.7 390.2L793.7 390.2L794.7 390.3L795.7 390.3L796.7 390.4L797.7 390.4L798.7 390.5L799.7 390.5L800.7 390.6L801.7 390.6L802.7 390.7L803.7 390.7L804.7 390.8L805.7 390.8L806.7 390.9L807.7 390.9L808.7 390.9L809.7 391.0L810.7 391.0L811.7 391.1L812.7 391.1L813.7 391.1L814.7 391.2L815.7 391.2L816.7 391.2L817.7 391.3L818.7 391.3L819.6 391.3L820.6 391.4L821.6 391.4L822.6 391.4L823.6 391.5L824.6 391.5L825.6 391.5L826.6 391.5L827.6 391.6L828.5 391.6L829.5 391.6L830.5 391.6L831.5 391.7L832.5 391.7L833.5 391.7L834.5 391.7L835.4 391.7L836.4 391.8L837.4 391.8L838.4 391.8L839.4 391.8L840.4 391.8L841.4 391.9L842.3 391.9L843.3 391.9L844.3 391.9L845.3 391.9L846.3 391.9L847.3 392.0L848.3 392.0L849.2 392.0L850.2 392.0L851.2 392.0L852.2 392.0L853.2 392.0L854.2 392.1L855.2 392.1L856.1 392.1L857.1 392.1L858.1 392.1L859.1 392.1L860.1 392.1L861.1 392.1L862.1 392.2L863.1 392.2L864.0 392.2L865.0 392.2L866.0 392.2L867.0 392.2L868.0 392.2L869.0 392.2L870.0 392.3L871.0 392.3L872.0 392.3L873.0 392.3L874.0 392.3L874.9 392.3L875.9 392.3L876.9 392.3L877.9 392.4L878.9 392.4L879.9 392.4L880.9 392.4L881.9 392.4L882.9 392.4L883.9 392.4L884.9 392.5L885.9 392.5L886.9 392.5L887.9 392.5L888.9 392.5L889.9 392.5L890.9 392.6L891.9 392.6L892.9 392.6L893.9 392.6L894.9 392.6L895.9 392.7L896.9 392.7L898.0 392.7L899.0 392.7L900.0 392.7L901.0 392.8L902.0 392.8L903.0 392.8L904.0 392.8L905.0 392.9L906.0 392.9L907.1 392.9L908.1 392.9L909.1 393.0L910.1 393.0L911.1 393.0L912.2 393.1L913.2 393.1L914.2 393.1L915.2 393.2L916.3 393.2L917.3 393.2L918.3 393.3L919.3 393.3" fill="none" stroke="#cc0000" stroke-width="6.2" stroke-linejoin="round" stroke-linecap="butt"/>
<path d="M131.6 405.0L132.6 404.7L133.5 404.4L134.5 404.1L135.4 403.8L136.4 403.5L137.3 403.2L138.3 402.9L139.3 402.7L140.2 402.4L141.2 402.2L142.2 402.0L143.1 401.7L144.1 401.5L145.1 401.3L146.1 401.1L147.0 400.9L148.0 400.7L149.0 400.5L150.0 400.3L151.0 400.2L151.9 400.0L152.9 399.8L153.9 399.7L154.9 399.5L155.9 399.4L156.9 399.2L157.9 399.1L158.9 398.9L159.9 398.8L160.8 398.7L161.8 398.6L162.8 398.5L163.8 398.3L164.8 398.2L165.8 398.1L166.8 398.0L167.8 397.9L168.8 397.8L169.8 397.7L170.8 397.7L171.8 397.6L172.8 397.5L173.8 397.4L174.8 397.3L175.8 397.2L176.8 397.2L177.8 397.1L178.8 397.0L179.8 396.9L180.8 396.9L181.8 396.8L182.8 396.7L183.8 396.6L184.8 396.6L185.8 396.5L186.8 396.4L187.8 396.4L188.8 396.3L189.8 396.2L190.8 396.2L191.8 396.1L192.8 396.0L193.8 395.9L194.8 395.9L195.8 395.8L196.8 395.7L197.8 395.6L198.8 395.5L199.8 395.5L200.8 395.4L201.8 395.3L202.8 395.2L203.8 395.1L204.8 395.0L205.8 394.9L206.8 394.8L207.8 394.7L208.8 394.6L209.7 394.4L210.7 394.3L211.7 394.2L212.7 394.1L213.7 393.9L214.7 393.8L215.7 393.7L216.6 393.5L217.6 393.4L218.6 393.2L219.6 393.0L220.5 392.9L221.5 392.7L222.5 392.5L223.5 392.3L224.4 392.1L225.4 391.9L226.4 391.7L227.3 391.5L228.3 391.3L229.3 391.1L230.2 390.9L231.2 390.7L232.1 390.4L233.1 390.2L234.1 390.0L235.0 389.7L236.0 389.5L236.9 389.2L237.9 389.0L238.8 388.7L239.8 388.4L240.7 388.2L241.7 387.9L242.6 387.6L243.6 387.3L244.5 387.0L245.5 386.8L246.4 386.5L247.4 386.2L248.3 385.9L249.3 385.6L250.2 385.3L251.2 385.0L252.1 384.7L253.1 384.4L254.0 384.0L255.0 383.7L255.9 383.4L256.9 383.1L257.8 382.8L258.8 382.4L259.7 382.1L260.6 381.8L261.6 381.5L262.5 381.1L263.5 380.8L264.4 380.4L265.4 380.1L266.3 379.8L267.3 379.4L268.2 379.1L269.2 378.8L270.1 378.4L271.1 378.1L272.0 377.7L273.0 377.4L273.9 377.0L274.9 376.7L275.8 376.3L276.8 376.0L277.7 375.7L278.7 375.3L279.7 375.0L280.6 374.6L281.6 374.3L282.5 373.9L283.5 373.6L284.4 373.3L285.4 372.9L286.4 372.6L287.3 372.2L288.3 371.9L289.2 371.6L290.2 371.2L291.2 370.9L292.1 370.6L293.1 370.3L294.0 369.9L295.0 369.6L296.0 369.3L296.9 369.0L297.9 368.7L298.8 368.4L299.8 368.1L300.8 367.8L301.7 367.5L302.7 367.2L303.7 366.9L304.6 366.6L305.6 366.3L306.6 366.1L307.5 365.8L308.5 365.5L309.5 365.3L310.4 365.0L311.4 364.8L312.4 364.5L313.3 364.3L314.3 364.1L315.3 363.8L316.2 363.6L317.2 363.4L318.2 363.2L319.2 363.0L320.1 362.8L321.1 362.6L322.1 362.4L323.0 362.2L324.0 362.1L325.0 361.9L326.0 361.8L326.9 361.6L327.9 361.5L328.9 361.3L329.8 361.2L330.8 361.1L331.8 361.0L332.8 360.9L333.7 360.8L334.7 360.7L335.7 360.7L336.7 360.6L337.6 360.5L338.6 360.5L339.6 360.5L340.5 360.4L341.5 360.4L342.5 360.4L343.5 360.4L344.4 360.4L345.4 360.5L346.4 360.5L347.4 360.5L348.3 360.6L349.3 360.7L350.3 360.7L351.3 360.8L352.3 360.9L353.2 361.0L354.2 361.1L355.2 361.2L356.2 361.4L357.1 361.5L358.1 361.7L359.1 361.8L360.1 362.0L361.0 362.1L362.0 362.3L363.0 362.5L364.0 362.7L364.9 362.9L365.9 363.1L366.9 363.3L367.9 363.5L368.9 363.7L369.8 363.9L370.8 364.1L371.8 364.4L372.8 364.6L373.7 364.8L374.7 365.1L375.7 365.3L376.7 365.5L377.7 365.8L378.6 366.0L379.6 366.3L380.6 366.6L381.6 366.8L382.5 367.1L383.5 367.3L384.5 367.6L385.5 367.9L386.5 368.1L387.4 368.4L388.4 368.7L389.4 368.9L390.4 369.2L391.4 369.4L392.3 369.7L393.3 370.0L394.3 370.2L395.3 370.5L396.3 370.7L397.2 371.0L398.2 371.2L399.2 371.5L400.2 371.7L401.2 372.0L402.1 372.2L403.1 372.5L404.1 372.7L405.1 373.0L406.1 373.2L407.0 373.4L408.0 373.7L409.0 373.9L410.0 374.1L411.0 374.4L411.9 374.6L412.9 374.8L413.9 375.0L414.9 375.3L415.9 375.5L416.8 375.7L417.8 375.9L418.8 376.1L419.8 376.3L420.8 376.5L421.7 376.7L422.7 376.9L423.7 377.1L424.7 377.3L425.7 377.5L426.7 377.7L427.6 377.9L428.6 378.1L429.6 378.3L430.6 378.5L431.6 378.7L432.6 378.9L433.5 379.1L434.5 379.2L435.5 379.4L436.5 379.6L437.5 379.8L438.4 379.9L439.4 380.1L440.4 380.3L441.4 380.4L442.4 380.6L443.4 380.8L444.3 380.9L445.3 381.1L446.3 381.3L447.3 381.4L448.3 381.6L449.3 381.7L450.3 381.9L451.2 382.0L452.2 382.2L453.2 382.3L454.2 382.4L455.2 382.6L456.2 382.7L457.2 382.8L458.1 383.0L459.1 383.1L460.1 383.2L461.1 383.4L462.1 383.5L463.1 383.6L464.1 383.7L465.0 383.9L466.0 384.0L467.0 384.1L468.0 384.2L469.0 384.3L470.0 384.4L471.0 384.5L472.0 384.6L472.9 384.7L473.9 384.8L474.9 384.9L475.9 385.0L476.9 385.1L477.9 385.2L478.9 385.3L479.9 385.4L480.8 385.5L481.8 385.6L482.8 385.6L483.8 385.7L484.8 385.8L485.8 385.9L486.8 386.0L487.8 386.0L488.8 386.1L489.8 386.2L490.7 386.2L491.7 386.3L492.7 386.4L493.7 386.4L494.7 386.5L495.7 386.5L496.7 386.6L497.7 386.6L498.7 386.7L499.7 386.7L500.7 386.8L501.7 386.8L502.7 386.9L503.6 386.9L504.6 386.9L505.6 387.0L506.6 387.0L507.6 387.0L508.6 387.1L509.6 387.1L510.6 387.1L511.6 387.2L512.6 387.2L513.6 387.2L514.6 387.2L515.6 387.2L516.6 387.2L517.6 387.3L518.6 387.3L519.6 387.3L520.6 387.3L521.6 387.3L522.6 387.3L523.6 387.3L524.5 387.3L525.5 387.3L526.5 387.3L527.5 387.3L528.5 387.3L529.5 387.3L530.5 387.2L531.5 387.2L532.5 387.2L533.5 387.2L534.5 387.2L535.5 387.2L536.5 387.2L537.5 387.1L538.5 387.1L539.5 387.1L540.5 387.1L541.5 387.0L542.5 387.0L543.5 387.0L544.5 387.0L545.5 386.9L546.5 386.9L547.5 386.9L548.5 386.8L549.5 386.8L550.5 386.8L551.5 386.7L552.5 386.7L553.5 386.7L554.5 386.6L555.5 386.6L556.5 386.6L557.5 386.5L558.5 386.5L559.5 386.4L560.5 386.4L561.5 386.4L562.5 386.3L563.5 386.3L564.5 386.2L565.5 386.2L566.5 386.2L567.5 386.1L568.5 386.1L569.5 386.0L570.5 386.0L571.5 385.9L572.5 385.9L573.5 385.8L574.5 385.8L575.5 385.8L576.5 385.7L577.6 385.7L578.6 385.6L579.6 385.6L580.6 385.5L581.6 385.5L582.6 385.4L583.6 385.4L584.6 385.3L585.6 385.3L586.6 385.2L587.6 385.2L588.6 385.2L589.6 385.1L590.6 385.1L591.6 385.0L592.6 385.0L593.6 384.9L594.6 384.9L595.6 384.8L596.6 384.8L597.6 384.7L598.6 384.7L599.6 384.6L600.6 384.6L601.6 384.5L602.6 384.5L603.6 384.4L604.6 384.4L605.6 384.3L606.6 384.3L607.6 384.2L608.6 384.1L609.6 384.1L610.5 384.0L611.5 384.0L612.5 383.9L613.5 383.8L614.5 383.7L615.5 383.7L616.5 383.6L617.5 383.5L618.5 383.4L619.5 383.3L620.5 383.2L621.5 383.1L622.5 383.0L623.5 382.9L624.5 382.8L625.4 382.7L626.4 382.6L627.4 382.5L628.4 382.4L629.4 382.3L630.4 382.1L631.4 382.0L632.4 381.9L633.3 381.7L634.3 381.6L635.3 381.4L636.3 381.3L637.3 381.1L638.2 381.0L639.2 380.8L640.2 380.6L641.2 380.5L642.2 380.3L643.1 380.1L644.1 379.9L645.1 379.7L646.1 379.5L647.0 379.3L648.0 379.1L649.0 378.8L650.0 378.6L650.9 378.4L651.9 378.1L652.9 377.9L653.8 377.6L654.8 377.3L655.8 377.0L656.7 376.7L657.7 376.4L658.6 376.1L659.6 375.8L660.6 375.5L661.5 375.2L662.5 374.8L663.4 374.5L664.4 374.2L665.3 373.8L666.3 373.6L667.3 373.3L668.2 373.1L669.2 372.9L670.1 372.7L671.1 372.6L672.1 372.5L673.1 372.5L674.0 372.6L675.0 372.7L676.0 372.8L677.0 373.0L677.9 373.2L678.9 373.4L679.8 373.7L680.8 374.1L681.7 374.4L682.6 374.8L683.6 375.2L684.5 375.6L685.4 376.0L686.3 376.5L687.2 377.0L688.1 377.4L689.0 377.9L689.9 378.4L690.7 378.9L691.6 379.4L692.5 379.9L693.4 380.4L694.3 380.8L695.2 381.3L696.1 381.7L697.0 382.2L697.9 382.6L698.8 383.0L699.7 383.4L700.7 383.8L701.6 384.2L702.5 384.5L703.4 384.9L704.3 385.2L705.3 385.6L706.2 385.9L707.2 386.2L708.1 386.5L709.0 386.8L710.0 387.1L710.9 387.3L711.9 387.6L712.8 387.8L713.8 388.1L714.8 388.3L715.7 388.5L716.7 388.8L717.6 389.0L718.6 389.2L719.6 389.3L720.6 389.5L721.5 389.7L722.5 389.9L723.5 390.0L724.5 390.2L725.4 390.3L726.4 390.4L727.4 390.6L728.4 390.7L729.4 390.8L730.4 390.9L731.4 391.0L732.4 391.1L733.4 391.2L734.4 391.3L735.4 391.4L736.4 391.5L737.4 391.6L738.4 391.6L739.4 391.7L740.4 391.8L741.4 391.8L742.4 391.9L743.4 391.9L744.4 392.0L745.4 392.0L746.4 392.1L747.4 392.1L748.4 392.1L749.4 392.2L750.4 392.2L751.4 392.2L752.4 392.3L753.4 392.3L754.4 392.3L755.5 392.3L756.5 392.4L757.5 392.4L758.5 392.4L759.5 392.4L760.5 392.5L761.5 392.5L762.5 392.5L763.5 392.5L764.5 392.6L765.5 392.6L766.5 392.6L767.5 392.6L768.5 392.7L769.5 392.7L770.6 392.7L771.6 392.7L772.6 392.7L773.6 392.8L774.6 392.8L775.6 392.8L776.6 392.8L777.6 392.9L778.6 392.9L779.6 392.9L780.6 392.9L781.6 393.0L782.6 393.0L783.6 393.0L784.6 393.0L785.6 393.1L786.6 393.1L787.6 393.1L788.6 393.1L789.6 393.2L790.6 393.2L791.6 393.2L792.6 393.2L793.6 393.3L794.6 393.3L795.6 393.3L796.6 393.3L797.6 393.3L798.6 393.4L799.6 393.4L800.6 393.4L801.6 393.4L802.6 393.5L803.6 393.5L804.6 393.5L805.6 393.5L806.6 393.6L807.6 393.6L808.6 393.6L809.6 393.6L810.6 393.7L811.6 393.7L812.6 393.7L813.6 393.7L814.6 393.7L815.5 393.8L816.5 393.8L817.5 393.8L818.5 393.8L819.5 393.9L820.5 393.9L821.5 393.9L822.5 393.9L823.5 393.9L824.5 394.0L825.5 394.0L826.5 394.0L827.5 394.0L828.5 394.1L829.5 394.1L830.5 394.1L831.5 394.1L832.5 394.1L833.5 394.2L834.5 394.2L835.5 394.2L836.5 394.2L837.5 394.3L838.4 394.3L839.4 394.3L840.4 394.3L841.4 394.3L842.4 394.4L843.4 394.4L844.4 394.4L845.4 394.4L846.4 394.4L847.4 394.5L848.4 394.5L849.4 394.5L850.4 394.5L851.4 394.5L852.4 394.6L853.4 394.6L854.4 394.6L855.4 394.6L856.4 394.6L857.4 394.7L858.3 394.7L859.3 394.7L860.3 394.7L861.3 394.7L862.3 394.7L863.3 394.8L864.3 394.8L865.3 394.8L866.3 394.8L867.3 394.8L868.3 394.9L869.3 394.9L870.3 394.9L871.3 394.9L872.3 394.9L873.3 394.9L874.3 395.0L875.3 395.0L876.3 395.0L877.3 395.0L878.3 395.0L879.3 395.0L880.3 395.0L881.3 395.1L882.3 395.1L883.3 395.1L884.3 395.1L885.3 395.1L886.3 395.1L887.3 395.2L888.3 395.2L889.3 395.2L890.2 395.2L891.2 395.2L892.2 395.2L893.2 395.2L894.2 395.2L895.2 395.3L896.2 395.3L897.2 395.3L898.2 395.3L899.2 395.3L900.2 395.3L901.3 395.3L902.3 395.3L903.3 395.3L904.3 395.4L905.3 395.4L906.3 395.4L907.3 395.4L908.3 395.4L909.3 395.4L910.3 395.4L911.3 395.4L912.3 395.4L913.3 395.4L914.3 395.5L915.3 395.5L916.3 395.5L917.3 395.5L918.3 395.5L919.3 395.5" fill="none" stroke="#6a0000" stroke-width="6.2" stroke-linejoin="round" stroke-linecap="butt"/>
<path d="M131.6 404.5L132.6 404.3L133.5 404.0L134.5 403.7L135.5 403.5L136.4 403.2L137.4 402.9L138.4 402.6L139.3 402.3L140.3 402.0L141.2 401.7L142.2 401.5L143.1 401.2L144.1 400.9L145.1 400.6L146.0 400.3L147.0 400.0L147.9 399.7L148.9 399.4L149.8 399.2L150.8 398.9L151.7 398.6L152.7 398.3L153.7 398.1L154.6 397.8L155.6 397.6L156.5 397.3L157.5 397.1L158.5 396.8L159.4 396.6L160.4 396.4L161.4 396.2L162.4 395.9L163.3 395.7L164.3 395.6L165.3 395.4L166.3 395.2L167.3 395.0L168.2 394.9L169.2 394.7L170.2 394.6L171.2 394.5L172.2 394.3L173.2 394.2L174.2 394.1L175.2 394.0L176.2 393.9L177.2 393.8L178.2 393.7L179.2 393.7L180.2 393.6L181.2 393.5L182.2 393.4L183.2 393.4L184.2 393.3L185.2 393.2L186.2 393.2L187.2 393.1L188.2 393.0L189.3 393.0L190.3 392.9L191.3 392.8L192.3 392.8L193.3 392.7L194.3 392.6L195.3 392.5L196.3 392.5L197.3 392.4L198.3 392.3L199.3 392.2L200.3 392.1L201.3 392.0L202.3 391.9L203.2 391.8L204.2 391.7L205.2 391.6L206.2 391.5L207.2 391.3L208.2 391.2L209.2 391.1L210.2 391.0L211.1 390.8L212.1 390.7L213.1 390.6L214.1 390.4L215.1 390.3L216.1 390.1L217.0 390.0L218.0 389.8L219.0 389.6L220.0 389.5L220.9 389.3L221.9 389.1L222.9 388.9L223.9 388.8L224.8 388.6L225.8 388.4L226.8 388.2L227.7 388.0L228.7 387.8L229.7 387.6L230.6 387.4L231.6 387.2L232.6 387.0L233.5 386.8L234.5 386.5L235.5 386.3L236.4 386.1L237.4 385.9L238.4 385.6L239.3 385.4L240.3 385.2L241.2 384.9L242.2 384.7L243.2 384.4L244.1 384.2L245.1 383.9L246.0 383.6L247.0 383.4L247.9 383.1L248.9 382.8L249.9 382.5L250.8 382.3L251.8 382.0L252.7 381.7L253.7 381.4L254.6 381.1L255.6 380.8L256.5 380.5L257.5 380.2L258.4 379.9L259.4 379.6L260.3 379.3L261.3 379.0L262.2 378.6L263.2 378.3L264.1 378.0L265.1 377.6L266.0 377.3L267.0 377.0L267.9 376.6L268.9 376.3L269.8 375.9L270.8 375.6L271.7 375.2L272.7 374.9L273.6 374.5L274.6 374.1L275.5 373.8L276.5 373.4L277.4 373.0L278.4 372.6L279.3 372.3L280.3 371.9L281.2 371.5L282.2 371.1L283.1 370.8L284.1 370.4L285.0 370.0L286.0 369.6L286.9 369.2L287.8 368.9L288.8 368.5L289.7 368.1L290.7 367.7L291.6 367.3L292.6 367.0L293.5 366.6L294.5 366.2L295.4 365.9L296.4 365.5L297.3 365.1L298.3 364.8L299.2 364.4L300.2 364.1L301.1 363.7L302.1 363.4L303.0 363.0L304.0 362.7L304.9 362.4L305.9 362.0L306.8 361.7L307.8 361.4L308.7 361.1L309.7 360.8L310.6 360.5L311.6 360.2L312.6 359.9L313.5 359.6L314.5 359.3L315.4 359.1L316.4 358.8L317.3 358.6L318.3 358.3L319.2 358.1L320.2 357.9L321.1 357.6L322.1 357.4L323.1 357.2L324.0 357.0L325.0 356.8L325.9 356.7L326.9 356.5L327.9 356.4L328.8 356.2L329.8 356.1L330.7 356.0L331.7 355.8L332.7 355.7L333.6 355.6L334.6 355.6L335.6 355.5L336.5 355.4L337.5 355.4L338.5 355.4L339.4 355.4L340.4 355.3L341.4 355.4L342.3 355.4L343.3 355.4L344.3 355.5L345.3 355.5L346.2 355.6L347.2 355.7L348.2 355.8L349.2 355.9L350.1 356.0L351.1 356.2L352.1 356.3L353.1 356.5L354.0 356.7L355.0 356.8L356.0 357.0L357.0 357.2L358.0 357.4L358.9 357.7L359.9 357.9L360.9 358.1L361.9 358.4L362.9 358.6L363.8 358.9L364.8 359.1L365.8 359.4L366.8 359.7L367.8 359.9L368.7 360.2L369.7 360.5L370.7 360.8L371.7 361.1L372.7 361.4L373.6 361.7L374.6 362.0L375.6 362.3L376.6 362.6L377.5 362.9L378.5 363.2L379.5 363.5L380.5 363.8L381.4 364.1L382.4 364.4L383.4 364.7L384.4 365.0L385.3 365.3L386.3 365.6L387.3 365.8L388.2 366.1L389.2 366.4L390.2 366.7L391.1 367.0L392.1 367.2L393.1 367.5L394.0 367.8L395.0 368.0L395.9 368.3L396.9 368.5L397.9 368.8L398.8 369.0L399.8 369.3L400.7 369.6L401.7 369.8L402.7 370.1L403.6 370.3L404.6 370.5L405.6 370.8L406.5 371.0L407.5 371.3L408.4 371.5L409.4 371.8L410.4 372.0L411.3 372.3L412.3 372.5L413.2 372.7L414.2 373.0L415.2 373.2L416.1 373.5L417.1 373.7L418.1 373.9L419.0 374.2L420.0 374.4L421.0 374.7L421.9 374.9L422.9 375.2L423.9 375.4L424.8 375.6L425.8 375.9L426.8 376.1L427.8 376.3L428.7 376.6L429.7 376.8L430.7 377.0L431.6 377.3L432.6 377.5L433.6 377.7L434.6 378.0L435.5 378.2L436.5 378.4L437.5 378.6L438.5 378.8L439.4 379.1L440.4 379.3L441.4 379.5L442.4 379.7L443.4 379.9L444.3 380.1L445.3 380.3L446.3 380.5L447.3 380.7L448.3 380.9L449.2 381.1L450.2 381.2L451.2 381.4L452.2 381.6L453.2 381.8L454.2 382.0L455.2 382.1L456.1 382.3L457.1 382.5L458.1 382.6L459.1 382.8L460.1 382.9L461.1 383.1L462.1 383.2L463.1 383.3L464.0 383.5L465.0 383.6L466.0 383.7L467.0 383.9L468.0 384.0L469.0 384.1L470.0 384.3L471.0 384.4L472.0 384.5L473.0 384.6L474.0 384.7L474.9 384.8L475.9 384.9L476.9 385.0L477.9 385.1L478.9 385.2L479.9 385.3L480.9 385.4L481.9 385.5L482.9 385.6L483.9 385.7L484.9 385.8L485.9 385.9L486.9 386.0L487.9 386.1L488.9 386.2L489.9 386.3L490.9 386.4L491.9 386.5L492.8 386.6L493.8 386.7L494.8 386.7L495.8 386.8L496.8 386.9L497.8 387.0L498.8 387.1L499.8 387.2L500.8 387.3L501.8 387.4L502.8 387.4L503.8 387.5L504.8 387.6L505.8 387.7L506.8 387.8L507.8 387.9L508.8 388.0L509.8 388.1L510.8 388.2L511.8 388.3L512.8 388.4L513.7 388.5L514.7 388.6L515.7 388.7L516.7 388.8L517.7 388.9L518.7 389.0L519.7 389.1L520.7 389.2L521.7 389.3L522.7 389.4L523.7 389.5L524.7 389.6L525.7 389.7L526.7 389.8L527.7 389.8L528.7 389.9L529.6 390.0L530.6 390.1L531.6 390.2L532.6 390.3L533.6 390.4L534.6 390.5L535.6 390.6L536.6 390.7L537.6 390.8L538.6 390.8L539.6 390.9L540.6 391.0L541.6 391.1L542.6 391.2L543.6 391.2L544.6 391.3L545.6 391.4L546.6 391.4L547.5 391.5L548.5 391.6L549.5 391.6L550.5 391.7L551.5 391.7L552.5 391.8L553.5 391.8L554.5 391.9L555.5 391.9L556.5 392.0L557.5 392.0L558.5 392.1L559.5 392.1L560.5 392.1L561.5 392.2L562.5 392.2L563.5 392.2L564.5 392.3L565.5 392.3L566.5 392.3L567.5 392.3L568.5 392.4L569.5 392.4L570.5 392.4L571.5 392.4L572.5 392.4L573.5 392.5L574.5 392.5L575.5 392.5L576.5 392.5L577.5 392.5L578.5 392.5L579.5 392.5L580.5 392.5L581.5 392.5L582.5 392.5L583.5 392.5L584.5 392.5L585.5 392.5L586.5 392.5L587.5 392.5L588.5 392.5L589.5 392.5L590.5 392.5L591.5 392.5L592.5 392.5L593.5 392.5L594.5 392.5L595.5 392.5L596.5 392.5L597.5 392.4L598.5 392.4L599.5 392.4L600.5 392.4L601.5 392.4L602.5 392.4L603.5 392.4L604.5 392.3L605.5 392.3L606.5 392.3L607.5 392.3L608.5 392.3L609.5 392.2L610.5 392.2L611.5 392.2L612.5 392.2L613.5 392.2L614.5 392.1L615.5 392.1L616.5 392.1L617.5 392.1L618.5 392.0L619.5 392.0L620.5 392.0L621.5 392.0L622.5 392.0L623.5 391.9L624.5 391.9L625.5 391.9L626.5 391.9L627.5 391.8L628.5 391.8L629.5 391.8L630.5 391.8L631.5 391.7L632.5 391.7L633.5 391.7L634.5 391.7L635.5 391.6L636.5 391.6L637.5 391.6L638.5 391.6L639.5 391.6L640.5 391.5L641.5 391.5L642.5 391.5L643.5 391.5L644.5 391.4L645.5 391.4L646.5 391.4L647.5 391.4L648.5 391.4L649.5 391.4L650.5 391.3L651.5 391.3L652.5 391.3L653.5 391.3L654.5 391.3L655.5 391.3L656.5 391.3L657.5 391.3L658.5 391.2L659.5 391.2L660.5 391.2L661.5 391.2L662.5 391.2L663.5 391.2L664.5 391.2L665.5 391.2L666.5 391.2L667.5 391.2L668.5 391.2L669.5 391.2L670.5 391.2L671.5 391.2L672.5 391.2L673.5 391.2L674.5 391.2L675.5 391.2L676.5 391.3L677.5 391.3L678.5 391.3L679.4 391.3L680.4 391.3L681.4 391.3L682.4 391.3L683.4 391.4L684.4 391.4L685.4 391.4L686.4 391.4L687.4 391.5L688.4 391.5L689.4 391.5L690.4 391.5L691.4 391.6L692.4 391.6L693.4 391.6L694.4 391.7L695.4 391.7L696.4 391.8L697.4 391.8L698.4 391.8L699.4 391.9L700.4 391.9L701.4 392.0L702.4 392.0L703.4 392.1L704.4 392.1L705.4 392.2L706.4 392.2L707.4 392.3L708.4 392.4L709.4 392.4L710.4 392.5L711.4 392.5L712.4 392.6L713.4 392.6L714.4 392.7L715.4 392.8L716.4 392.8L717.4 392.9L718.4 392.9L719.4 393.0L720.4 393.0L721.4 393.1L722.4 393.2L723.4 393.2L724.4 393.3L725.4 393.3L726.4 393.4L727.4 393.4L728.4 393.5L729.4 393.5L730.4 393.6L731.4 393.6L732.4 393.7L733.4 393.7L734.4 393.8L735.4 393.8L736.4 393.9L737.4 393.9L738.4 394.0L739.4 394.0L740.3 394.0L741.3 394.1L742.3 394.1L743.3 394.2L744.3 394.2L745.3 394.2L746.3 394.3L747.3 394.3L748.3 394.4L749.3 394.4L750.3 394.4L751.3 394.5L752.3 394.5L753.3 394.5L754.3 394.6L755.3 394.6L756.3 394.6L757.3 394.7L758.3 394.7L759.3 394.7L760.3 394.8L761.3 394.8L762.3 394.8L763.3 394.9L764.3 394.9L765.3 394.9L766.3 394.9L767.3 395.0L768.3 395.0L769.3 395.0L770.3 395.0L771.3 395.1L772.3 395.1L773.3 395.1L774.3 395.1L775.3 395.2L776.3 395.2L777.3 395.2L778.3 395.2L779.3 395.3L780.3 395.3L781.3 395.3L782.3 395.3L783.3 395.3L784.3 395.4L785.3 395.4L786.3 395.4L787.3 395.4L788.3 395.4L789.3 395.4L790.3 395.5L791.3 395.5L792.3 395.5L793.3 395.5L794.3 395.5L795.3 395.5L796.3 395.6L797.3 395.6L798.3 395.6L799.3 395.6L800.3 395.6L801.3 395.6L802.3 395.6L803.3 395.7L804.3 395.7L805.3 395.7L806.3 395.7L807.3 395.7L808.3 395.7L809.3 395.7L810.3 395.7L811.3 395.7L812.3 395.8L813.3 395.8L814.3 395.8L815.3 395.8L816.3 395.8L817.3 395.8L818.3 395.8L819.3 395.8L820.3 395.8L821.3 395.8L822.3 395.9L823.3 395.9L824.3 395.9L825.3 395.9L826.3 395.9L827.3 395.9L828.3 395.9L829.3 395.9L830.3 395.9L831.3 395.9L832.3 395.9L833.3 395.9L834.3 395.9L835.3 396.0L836.3 396.0L837.3 396.0L838.3 396.0L839.3 396.0L840.3 396.0L841.3 396.0L842.3 396.0L843.3 396.0L844.3 396.0L845.3 396.0L846.3 396.0L847.3 396.0L848.3 396.0L849.3 396.1L850.3 396.1L851.3 396.1L852.3 396.1L853.3 396.1L854.3 396.1L855.3 396.1L856.3 396.1L857.3 396.1L858.3 396.1L859.3 396.1L860.3 396.1L861.3 396.1L862.3 396.2L863.3 396.2L864.3 396.2L865.3 396.2L866.3 396.2L867.3 396.2L868.3 396.2L869.3 396.2L870.3 396.2L871.3 396.2L872.3 396.2L873.3 396.3L874.3 396.3L875.3 396.3L876.3 396.3L877.3 396.3L878.3 396.3L879.3 396.3L880.3 396.3L881.3 396.3L882.3 396.4L883.3 396.4L884.3 396.4L885.3 396.4L886.3 396.4L887.3 396.4L888.3 396.4L889.3 396.4L890.3 396.5L891.3 396.5L892.3 396.5L893.3 396.5L894.3 396.5L895.3 396.5L896.3 396.5L897.3 396.6L898.3 396.6L899.3 396.6L900.3 396.6L901.3 396.6L902.3 396.6L903.3 396.7L904.3 396.7L905.3 396.7L906.3 396.7L907.3 396.7L908.3 396.8L909.3 396.8L910.3 396.8L911.3 396.8L912.3 396.8L913.3 396.9L914.3 396.9L915.3 396.9L916.3 396.9L917.3 397.0L918.3 397.0L919.3 397.0" fill="none" stroke="#000000" stroke-width="6.2" stroke-linejoin="round" stroke-linecap="butt"/>
<rect x="124.5" y="1.5" width="803" height="465" fill="none" stroke="#000" stroke-width="3"/>
<line x1="103" y1="398.8" x2="124" y2="398.8" stroke="#000" stroke-width="3"/>
<text x="73.07" y="411.70" font-family="Liberation Sans" font-size="37" font-weight="normal" fill="#000">0</text>
<line x1="103" y1="312.9" x2="124" y2="312.9" stroke="#000" stroke-width="3"/>
<text x="52.49" y="325.80" font-family="Liberation Sans" font-size="37" font-weight="normal" fill="#000">20</text>
<line x1="103" y1="227.0" x2="124" y2="227.0" stroke="#000" stroke-width="3"/>
<text x="52.49" y="239.90" font-family="Liberation Sans" font-size="37" font-weight="normal" fill="#000">40</text>
<line x1="103" y1="141.1" x2="124" y2="141.1" stroke="#000" stroke-width="3"/>
<text x="52.49" y="154.00" font-family="Liberation Sans" font-size="37" font-weight="normal" fill="#000">60</text>
<line x1="103" y1="55.2" x2="124" y2="55.2" stroke="#000" stroke-width="3"/>
<text x="52.49" y="68.10" font-family="Liberation Sans" font-size="37" font-weight="normal" fill="#000">80</text>
<line x1="143.6" y1="466" x2="143.6" y2="488" stroke="#000" stroke-width="3"/>
<text x="112.75" y="532.60" font-family="Liberation Sans" font-size="37" font-weight="normal" fill="#000">350</text>
<line x1="266.4" y1="466" x2="266.4" y2="488" stroke="#000" stroke-width="3"/>
<text x="235.85" y="532.60" font-family="Liberation Sans" font-size="37" font-weight="normal" fill="#000">400</text>
<line x1="389.2" y1="466" x2="389.2" y2="488" stroke="#000" stroke-width="3"/>
<text x="358.67" y="532.60" font-family="Liberation Sans" font-size="37" font-weight="normal" fill="#000">450</text>
<line x1="512.1" y1="466" x2="512.1" y2="488" stroke="#000" stroke-width="3"/>
<text x="481.18" y="532.60" font-family="Liberation Sans" font-size="37" font-weight="normal" fill="#000">500</text>
<line x1="634.9" y1="466" x2="634.9" y2="488" stroke="#000" stroke-width="3"/>
<text x="604.00" y="532.60" font-family="Liberation Sans" font-size="37" font-weight="normal" fill="#000">550</text>
<line x1="757.7" y1="466" x2="757.7" y2="488" stroke="#000" stroke-width="3"/>
<text x="726.62" y="532.60" font-family="Liberation Sans" font-size="37" font-weight="normal" fill="#000">600</text>
<line x1="880.5" y1="466" x2="880.5" y2="488" stroke="#000" stroke-width="3"/>
<text x="849.44" y="532.60" font-family="Liberation Sans" font-size="37" font-weight="normal" fill="#000">650</text>
<text x="368.02" y="574.60" font-family="Liberation Sans" font-size="41.8" font-weight="normal" fill="#000">Wavelength (nm)</text>
<g transform="translate(35.9 418) rotate(-90)"><text x="-0.64" y="0.00" font-family="Liberation Sans" font-size="42" font-weight="normal" fill="#000">Trans. Abs. (mOD)</text></g>
<text x="751.64" y="84.90" font-family="Liberation Sans" font-size="31.2" font-weight="normal" fill="#000">Delay (ps)</text>
<line x1="772" y1="116.0" x2="824" y2="116.0" stroke="#0b0090" stroke-width="5.8"/>
<text x="836.18" y="124.50" font-family="Liberation Sans" font-size="25.5" font-weight="normal" fill="#000">5</text>
<line x1="772" y1="147.7" x2="824" y2="147.7" stroke="#003cff" stroke-width="5.8"/>
<text x="836.18" y="156.20" font-family="Liberation Sans" font-size="25.5" font-weight="normal" fill="#000" letter-spacing="1.5">50</text>
<line x1="772" y1="179.3" x2="824" y2="179.3" stroke="#8099ff" stroke-width="5.8"/>
<text x="835.26" y="187.90" font-family="Liberation Sans" font-size="25.5" font-weight="normal" fill="#000">100</text><rect x="836.40" y="184.79" width="5.22" height="4.51" fill="#fdfdfc"/><rect x="843.97" y="184.79" width="5.07" height="4.51" fill="#fdfdfc"/>
<line x1="772" y1="210.9" x2="824" y2="210.9" stroke="#ff7b7b" stroke-width="5.8"/>
<text x="835.92" y="219.60" font-family="Liberation Sans" font-size="25.5" font-weight="normal" fill="#000">200</text>
<line x1="772" y1="242.6" x2="824" y2="242.6" stroke="#cc0000" stroke-width="5.8"/>
<text x="836.61" y="251.30" font-family="Liberation Sans" font-size="25.5" font-weight="normal" fill="#000">400</text>
<line x1="772" y1="274.2" x2="824" y2="274.2" stroke="#6a0000" stroke-width="5.8"/>
<text x="836.09" y="283.00" font-family="Liberation Sans" font-size="25.5" font-weight="normal" fill="#000">800</text>
<line x1="772" y1="305.9" x2="824" y2="305.9" stroke="#000000" stroke-width="5.8"/>
<text x="835.26" y="314.70" font-family="Liberation Sans" font-size="25.5" font-weight="normal" fill="#000">1300</text><rect x="836.40" y="311.59" width="5.22" height="4.51" fill="#fdfdfc"/><rect x="843.97" y="311.59" width="5.07" height="4.51" fill="#fdfdfc"/>
<path d="M215.5 209.3C217.0 212.0 221.3 220.4 224.6 225.6C227.9 230.8 231.6 236.2 235.1 240.7C238.6 245.2 242.2 248.9 245.7 252.5C249.2 256.1 252.9 259.8 256.2 262.5C259.5 265.2 262.1 267.4 265.3 268.8C268.5 270.2 271.6 271.2 275.1 271.2C278.6 271.2 282.8 270.5 286.4 268.8C290.0 267.1 293.4 264.1 296.9 261.0C300.4 257.9 304.0 254.5 307.5 250.2C311.0 245.8 314.5 240.2 318.0 234.9C321.5 229.6 325.8 222.4 328.6 218.1C331.4 213.8 333.6 210.8 334.6 209.3" fill="none" stroke="#231f20" stroke-width="4.2" stroke-linecap="round"/>
<line x1="253.5" y1="260.3" x2="297" y2="260.3" stroke="#231f20" stroke-width="2.4"/>
<line x1="274.5" y1="260" x2="274.5" y2="120" stroke="#0a5fb5" stroke-width="4.3"/>
<polygon points="274.5,104.4 283.2,124.6 274.5,122.2 265.7,124.6" fill="#0a5fb5"/>
<path d="M332.6 140.1C334.3 141.5 339.5 146.2 342.7 148.4C345.9 150.6 348.9 152.1 352.0 153.1C355.1 154.1 358.1 154.5 361.2 154.3C364.3 154.1 367.4 153.1 370.5 151.7C373.6 150.3 376.8 148.4 380.0 146.0C383.2 143.6 386.7 140.8 390.0 137.0C393.3 133.2 397.2 127.5 400.0 123.0C402.8 118.5 404.6 115.1 407.0 110.0C409.4 104.9 412.3 98.1 414.7 92.4C417.1 86.7 419.4 81.2 421.4 75.6C423.4 70.0 424.9 64.4 426.5 58.8C428.1 53.2 429.7 47.6 430.7 42.0C431.7 36.4 432.4 28.0 432.7 25.2" fill="none" stroke="#145f1e" stroke-width="4.6" stroke-linecap="round"/>
<path d="M322.9 131.8C323.3 130.4 324.0 126.1 325.2 123.5C326.4 120.9 327.6 117.9 329.8 116.1C332.0 114.3 335.5 113.1 338.1 112.9C340.7 112.7 343.4 113.8 345.5 114.7C347.6 115.6 349.1 116.8 350.6 118.4C352.1 120.0 353.2 122.2 354.3 124.5C355.4 126.8 356.6 130.8 357.0 132.0" fill="none" stroke="#4cb848" stroke-width="4.2" stroke-linecap="round"/>
<polygon points="350.6,133.2 357.5,135 364.9,130 361.7,149.4" fill="#4cb848"/>
<path d="M248.7 10.9C249.0 12.7 249.4 16.6 250.4 21.8C251.4 27.0 253.1 35.8 254.6 42.0C256.1 48.2 258.0 53.5 259.7 58.8C261.4 64.1 263.2 69.8 264.7 74.0C266.2 78.2 266.8 79.8 268.5 84.0C270.2 88.2 272.8 94.6 274.9 99.4C277.0 104.2 278.9 108.8 281.0 112.8C283.1 116.8 285.2 120.3 287.6 123.5C290.1 126.7 293.0 129.9 295.7 132.2C298.4 134.5 300.8 136.0 304.0 137.5C307.2 139.0 311.6 140.8 315.0 141.2C318.4 141.6 321.1 141.2 324.2 140.2C327.3 139.2 330.4 137.6 333.5 135.4C336.6 133.2 339.6 129.9 342.7 127.2C345.8 124.5 349.0 121.9 352.0 118.9C355.0 115.9 358.2 112.3 360.5 109.0C362.8 105.7 364.4 102.3 366.0 99.0C367.6 95.7 368.4 93.0 370.2 89.1C372.0 85.2 374.8 80.6 376.9 75.6C379.0 70.5 381.1 64.4 382.8 58.8C384.5 53.2 386.1 47.6 387.3 42.0C388.6 36.4 389.5 30.3 390.3 25.2C391.1 20.1 392.0 13.7 392.4 11.4" fill="none" stroke="#231f20" stroke-width="4.2" stroke-linecap="round"/>
<path d="M259.4 96.9L260.2 96.8L261.0 96.7L261.7 96.5L262.5 96.2L263.3 95.8L264.1 95.1L264.8 94.2L265.6 93.1L266.4 91.5L267.2 89.6L267.9 87.4L268.7 84.7L269.5 81.8L270.3 78.8L271.1 75.7L271.8 72.8L272.6 70.3L273.4 68.4L274.2 67.2L274.9 66.8L275.7 67.3L276.5 68.6L277.3 70.6L278.0 73.1L278.8 76.0L279.6 79.1L280.4 82.1L281.2 85.0L281.9 87.6L282.7 89.8L283.5 91.7L284.3 93.2L285.0 94.3L285.8 95.2L286.6 95.8L287.4 96.2L288.1 96.5L288.9 96.7L289.7 96.8Z" fill="#f8c3cd" stroke="none"/>
<path d="M259.4 96.9L260.2 96.8L261.0 96.7L261.7 96.5L262.5 96.2L263.3 95.8L264.1 95.1L264.8 94.2L265.6 93.1L266.4 91.5L267.2 89.6L267.9 87.4L268.7 84.7L269.5 81.8L270.3 78.8L271.1 75.7L271.8 72.8L272.6 70.3L273.4 68.4L274.2 67.2L274.9 66.8L275.7 67.3L276.5 68.6L277.3 70.6L278.0 73.1L278.8 76.0L279.6 79.1L280.4 82.1L281.2 85.0L281.9 87.6L282.7 89.8L283.5 91.7L284.3 93.2L285.0 94.3L285.8 95.2L286.6 95.8L287.4 96.2L288.1 96.5L288.9 96.7L289.7 96.8" fill="none" stroke="#231f20" stroke-width="1.6"/>
<path d="M282.0 99.5L292.0 99.5L282.0 110.5L299.5 104.0L290.5 115.0L304.0 116.0L297.0 120.5L309.0 121.5L304.5 126.5L310.0 127.0" fill="none" stroke="#e8141e" stroke-width="3.9" stroke-linejoin="round" stroke-linecap="round"/>
<polygon points="305.4,131.1 314.2,122.7 319.7,137.4" fill="#e8141e"/>
<path d="M312.0 304.3 L304.7 332.1 L276.9 339.8 L256.4 319.5 L263.7 291.7 L291.5 284.0Z" fill="none" stroke="#231f20" stroke-width="3.8" stroke-linejoin="miter"/>
<path d="M421.6 304.3 L442.1 284.0 L469.9 291.7 L477.2 319.5 L456.7 339.8 L428.9 332.1Z" fill="none" stroke="#231f20" stroke-width="3.8" stroke-linejoin="miter"/>
<line x1="289.9" y1="290.2" x2="305.8" y2="305.9" stroke="#231f20" stroke-width="3.8"/>
<line x1="262.6" y1="317.9" x2="268.2" y2="296.1" stroke="#231f20" stroke-width="3.8"/>
<line x1="300.2" y1="327.7" x2="278.5" y2="333.6" stroke="#231f20" stroke-width="3.8"/>
<line x1="427.8" y1="305.9" x2="443.7" y2="290.2" stroke="#231f20" stroke-width="3.8"/>
<line x1="465.4" y1="296.1" x2="471.0" y2="317.9" stroke="#231f20" stroke-width="3.8"/>
<line x1="455.1" y1="333.6" x2="433.4" y2="327.7" stroke="#231f20" stroke-width="3.8"/>
<clipPath id="sc"><rect x="300" y="240" width="140" height="56"/><rect x="300" y="240" width="57.8" height="100"/><rect x="376.2" y="240" width="64" height="100"/></clipPath>
<path clip-path="url(#sc)" d="M361 310.6 L340.6 293.8 L350.2 263.8 L383.6 263.8 L393.4 293.8 L373 310.2" fill="none" stroke="#231f20" stroke-width="3.8" stroke-linejoin="miter"/>
<line x1="356.5" y1="270.3" x2="348.8" y2="292.1" stroke="#231f20" stroke-width="3.8"/>
<line x1="377.5" y1="270.3" x2="385.2" y2="292.1" stroke="#231f20" stroke-width="3.8"/>
<line x1="340.6" y1="293.8" x2="312.0" y2="304.3" stroke="#231f20" stroke-width="3.8"/>
<line x1="393.4" y1="293.8" x2="421.6" y2="304.3" stroke="#231f20" stroke-width="3.8"/>
<text transform="translate(359.76 319.25) scale(0.87 1)" font-family="Liberation Sans" font-size="25.0" font-weight="normal" fill="#231f20" stroke="#231f20" stroke-width="0.7" stroke-linejoin="round">S</text>
<text transform="translate(222.11 73.00) scale(0.92 1)" font-family="Liberation Sans" font-size="35.6" font-weight="normal" fill="#231f20" stroke="#231f20" stroke-width="1.2" stroke-linejoin="round">S</text>
<text x="246.42" y="84.40" font-family="Liberation Sans" font-size="26.0" font-weight="normal" fill="#231f20" stroke="#231f20" stroke-width="0.8" stroke-linejoin="round">1</text><rect x="247.20" y="80.86" width="5.71" height="5.34" fill="#fdfdfc"/><rect x="255.31" y="80.86" width="5.55" height="5.34" fill="#fdfdfc"/>
<text transform="translate(197.11 275.00) scale(0.92 1)" font-family="Liberation Sans" font-size="35.6" font-weight="normal" fill="#231f20" stroke="#231f20" stroke-width="1.2" stroke-linejoin="round">S</text>
<text x="219.68" y="287.00" font-family="Liberation Sans" font-size="26.1" font-weight="normal" fill="#231f20" stroke="#231f20" stroke-width="0.8" stroke-linejoin="round">0</text>
<text transform="translate(311.31 103.75) scale(0.955 1)" font-family="Liberation Sans" font-size="27.3" font-weight="bold" fill="#4cb848" letter-spacing="1.2" stroke="#4cb848" stroke-width="0.3" stroke-linejoin="round">ISC</text>
<text transform="translate(416.05 140.35) scale(0.98 1)" font-family="Liberation Sans" font-size="36.0" font-weight="bold" fill="#1b5e2a" stroke="#1b5e2a" stroke-width="0.7" stroke-linejoin="round">T</text>
<text x="438.52" y="152.70" font-family="Liberation Sans" font-size="26.0" font-weight="normal" fill="#1b5e2a" stroke="#1b5e2a" stroke-width="1.0" stroke-linejoin="round">1</text><rect x="439.20" y="149.06" width="5.81" height="5.54" fill="#fdfdfc"/><rect x="447.41" y="149.06" width="5.65" height="5.54" fill="#fdfdfc"/></svg>
</body></html>
